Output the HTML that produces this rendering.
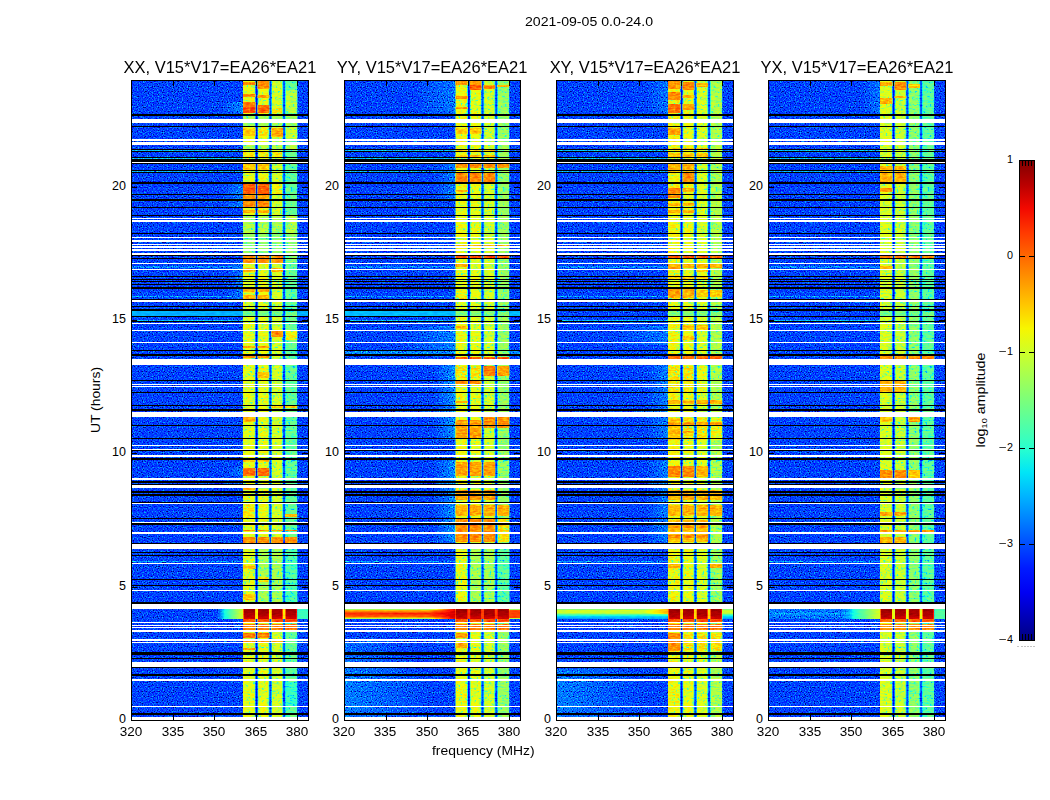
<!DOCTYPE html>
<html><head><meta charset="utf-8"><style>
html,body{margin:0;padding:0;background:#fff;}
body{width:1050px;height:800px;position:relative;overflow:hidden;font-family:"Liberation Sans",sans-serif;color:#000;}
.t{position:absolute;white-space:nowrap;line-height:1;}
.r{text-align:right;}
.c{text-align:center;}
sub{vertical-align:-2px;line-height:0}
</style></head><body>
<svg width="1050" height="800" viewBox="0 0 1050 800" style="position:absolute;left:0;top:0"><defs><linearGradient id="jetg" x1="0" y1="0" x2="0" y2="1"><stop offset="0.000" stop-color="#800000"/><stop offset="0.050" stop-color="#b90000"/><stop offset="0.100" stop-color="#f30900"/><stop offset="0.150" stop-color="#ff3900"/><stop offset="0.200" stop-color="#ff6800"/><stop offset="0.250" stop-color="#ff9700"/><stop offset="0.300" stop-color="#ffc600"/><stop offset="0.350" stop-color="#f7f600"/><stop offset="0.400" stop-color="#ceff29"/><stop offset="0.450" stop-color="#a5ff52"/><stop offset="0.500" stop-color="#7bff7b"/><stop offset="0.550" stop-color="#52ffa5"/><stop offset="0.600" stop-color="#29ffce"/><stop offset="0.650" stop-color="#00e5f7"/><stop offset="0.700" stop-color="#00b3ff"/><stop offset="0.750" stop-color="#0080ff"/><stop offset="0.800" stop-color="#004cff"/><stop offset="0.850" stop-color="#001aff"/><stop offset="0.900" stop-color="#0000f3"/><stop offset="0.950" stop-color="#0000b9"/><stop offset="1.000" stop-color="#000080"/></linearGradient><filter id="jn" x="0" y="0" width="1" height="1" color-interpolation-filters="sRGB">
<feTurbulence type="fractalNoise" baseFrequency="0.8" numOctaves="1" seed="7" result="t"/>
<feColorMatrix in="t" type="matrix" values="1 0 0 0 0  1 0 0 0 0  1 0 0 0 0  0 0 0 0 1" result="n0"/><feComponentTransfer in="n0" result="n"><feFuncR type="table" tableValues="0.000 0.050 0.100 0.150 0.200 0.260 0.330 0.420 0.455 0.470 0.486 0.505 0.525 0.555 0.580 0.600 0.620 0.640 0.660 0.680 0.700"/><feFuncG type="table" tableValues="0.000 0.050 0.100 0.150 0.200 0.260 0.330 0.420 0.455 0.470 0.486 0.505 0.525 0.555 0.580 0.600 0.620 0.640 0.660 0.680 0.700"/><feFuncB type="table" tableValues="0.000 0.050 0.100 0.150 0.200 0.260 0.330 0.420 0.455 0.470 0.486 0.505 0.525 0.555 0.580 0.600 0.620 0.640 0.660 0.680 0.700"/></feComponentTransfer>
<feComposite in="SourceGraphic" in2="n" operator="arithmetic" k1="0" k2="1" k3="1.0" k4="-0.5" result="s"/>
<feColorMatrix in="s" type="matrix" values="1 0 0 0 0  1 0 0 0 0  1 0 0 0 0  0 0 0 0 1" result="g"/>
<feComponentTransfer in="g" result="c"><feFuncR type="table" tableValues="0.000 0.000 0.000 0.000 0.000 0.000 0.000 0.000 0.000 0.000 0.000 0.000 0.000 0.000 0.000 0.000 0.000 0.000 0.000 0.000 0.000 0.000 0.000 0.031 0.082 0.129 0.180 0.231 0.282 0.333 0.384 0.435 0.482 0.533 0.584 0.635 0.686 0.737 0.788 0.835 0.886 0.937 0.988 1.000 1.000 1.000 1.000 1.000 1.000 1.000 1.000 1.000 1.000 1.000 1.000 1.000 1.000 0.996 0.925 0.855 0.784 0.714 0.643 0.573 0.502"/><feFuncG type="table" tableValues="0.000 0.000 0.000 0.000 0.000 0.000 0.000 0.000 0.000 0.063 0.125 0.188 0.251 0.314 0.376 0.439 0.502 0.561 0.624 0.686 0.749 0.812 0.875 0.937 1.000 1.000 1.000 1.000 1.000 1.000 1.000 1.000 1.000 1.000 1.000 1.000 1.000 1.000 1.000 1.000 1.000 0.996 0.941 0.882 0.824 0.765 0.710 0.651 0.592 0.533 0.478 0.420 0.361 0.302 0.247 0.188 0.129 0.071 0.016 0.000 0.000 0.000 0.000 0.000 0.000"/><feFuncB type="table" tableValues="0.502 0.573 0.643 0.714 0.784 0.855 0.925 0.996 1.000 1.000 1.000 1.000 1.000 1.000 1.000 1.000 1.000 1.000 1.000 1.000 1.000 1.000 0.988 0.937 0.886 0.835 0.788 0.737 0.686 0.635 0.584 0.533 0.482 0.435 0.384 0.333 0.282 0.231 0.180 0.129 0.082 0.031 0.000 0.000 0.000 0.000 0.000 0.000 0.000 0.000 0.000 0.000 0.000 0.000 0.000 0.000 0.000 0.000 0.000 0.000 0.000 0.000 0.000 0.000 0.000"/></feComponentTransfer>
<feComposite in="c" in2="SourceAlpha" operator="in"/>
</filter><linearGradient id="glw24" x1="0" x2="1"><stop offset="0" stop-color="#3d3d3d" stop-opacity="0"/><stop offset="1" stop-color="#3d3d3d"/></linearGradient><linearGradient id="gll24" x1="0" x2="1"><stop offset="0" stop-color="#3d3d3d"/><stop offset="1" stop-color="#3d3d3d" stop-opacity="0"/></linearGradient><linearGradient id="glw25" x1="0" x2="1"><stop offset="0" stop-color="#404040" stop-opacity="0"/><stop offset="1" stop-color="#404040"/></linearGradient><linearGradient id="gll25" x1="0" x2="1"><stop offset="0" stop-color="#404040"/><stop offset="1" stop-color="#404040" stop-opacity="0"/></linearGradient><linearGradient id="glw26" x1="0" x2="1"><stop offset="0" stop-color="#424242" stop-opacity="0"/><stop offset="1" stop-color="#424242"/></linearGradient><linearGradient id="gll26" x1="0" x2="1"><stop offset="0" stop-color="#424242"/><stop offset="1" stop-color="#424242" stop-opacity="0"/></linearGradient><linearGradient id="glw27" x1="0" x2="1"><stop offset="0" stop-color="#454545" stop-opacity="0"/><stop offset="1" stop-color="#454545"/></linearGradient><linearGradient id="gll27" x1="0" x2="1"><stop offset="0" stop-color="#454545"/><stop offset="1" stop-color="#454545" stop-opacity="0"/></linearGradient><linearGradient id="glw28" x1="0" x2="1"><stop offset="0" stop-color="#474747" stop-opacity="0"/><stop offset="1" stop-color="#474747"/></linearGradient><linearGradient id="gll28" x1="0" x2="1"><stop offset="0" stop-color="#474747"/><stop offset="1" stop-color="#474747" stop-opacity="0"/></linearGradient><linearGradient id="glw30" x1="0" x2="1"><stop offset="0" stop-color="#4c4c4c" stop-opacity="0"/><stop offset="1" stop-color="#4c4c4c"/></linearGradient><linearGradient id="gll30" x1="0" x2="1"><stop offset="0" stop-color="#4c4c4c"/><stop offset="1" stop-color="#4c4c4c" stop-opacity="0"/></linearGradient><filter id="jb" x="0" y="0" width="1" height="1" color-interpolation-filters="sRGB">
<feTurbulence type="fractalNoise" baseFrequency="0.2 0.6" numOctaves="2" seed="11" result="t"/>
<feColorMatrix in="t" type="matrix" values="1 0 0 0 0  1 0 0 0 0  1 0 0 0 0  0 0 0 0 1" result="n0"/><feComponentTransfer in="n0" result="n"><feFuncR type="table" tableValues="0.000 0.050 0.100 0.150 0.200 0.260 0.320 0.380 0.430 0.470 0.500 0.520 0.540 0.555 0.570 0.585 0.600 0.610 0.620 0.630 0.640"/><feFuncG type="table" tableValues="0.000 0.050 0.100 0.150 0.200 0.260 0.320 0.380 0.430 0.470 0.500 0.520 0.540 0.555 0.570 0.585 0.600 0.610 0.620 0.630 0.640"/><feFuncB type="table" tableValues="0.000 0.050 0.100 0.150 0.200 0.260 0.320 0.380 0.430 0.470 0.500 0.520 0.540 0.555 0.570 0.585 0.600 0.610 0.620 0.630 0.640"/></feComponentTransfer>
<feComposite in="SourceGraphic" in2="n" operator="arithmetic" k1="0" k2="1" k3="0.36" k4="-0.18" result="s"/><feTurbulence type="fractalNoise" baseFrequency="0.45" numOctaves="1" seed="31" result="t2"/>
<feColorMatrix in="t2" type="matrix" values="1 0 0 0 0  1 0 0 0 0  1 0 0 0 0  0 0 0 0 1" result="m2"/>
<feComponentTransfer in="m2" result="d"><feFuncR type="table" tableValues="1 1 1 1 1 1 1 1 1 1 1 1 1 0.910 0.700 0.700 0.700 0.700 0.700 0.700 0.700"/><feFuncG type="table" tableValues="1 1 1 1 1 1 1 1 1 1 1 1 1 0.910 0.700 0.700 0.700 0.700 0.700 0.700 0.700"/><feFuncB type="table" tableValues="1 1 1 1 1 1 1 1 1 1 1 1 1 0.910 0.700 0.700 0.700 0.700 0.700 0.700 0.700"/></feComponentTransfer>
<feComposite in="s" in2="d" operator="arithmetic" k1="1" k2="0" k3="0" k4="0" result="s2"/>
<feColorMatrix in="s2" type="matrix" values="1 0 0 0 0  1 0 0 0 0  1 0 0 0 0  0 0 0 0 1" result="g"/>
<feComponentTransfer in="g" result="c"><feFuncR type="table" tableValues="0.000 0.000 0.000 0.000 0.000 0.000 0.000 0.000 0.000 0.000 0.000 0.000 0.000 0.000 0.000 0.000 0.000 0.000 0.000 0.000 0.000 0.000 0.000 0.031 0.082 0.129 0.180 0.231 0.282 0.333 0.384 0.435 0.482 0.533 0.584 0.635 0.686 0.737 0.788 0.835 0.886 0.937 0.988 1.000 1.000 1.000 1.000 1.000 1.000 1.000 1.000 1.000 1.000 1.000 1.000 1.000 1.000 0.996 0.925 0.855 0.784 0.714 0.643 0.573 0.502"/><feFuncG type="table" tableValues="0.000 0.000 0.000 0.000 0.000 0.000 0.000 0.000 0.000 0.063 0.125 0.188 0.251 0.314 0.376 0.439 0.502 0.561 0.624 0.686 0.749 0.812 0.875 0.937 1.000 1.000 1.000 1.000 1.000 1.000 1.000 1.000 1.000 1.000 1.000 1.000 1.000 1.000 1.000 1.000 1.000 0.996 0.941 0.882 0.824 0.765 0.710 0.651 0.592 0.533 0.478 0.420 0.361 0.302 0.247 0.188 0.129 0.071 0.016 0.000 0.000 0.000 0.000 0.000 0.000"/><feFuncB type="table" tableValues="0.502 0.573 0.643 0.714 0.784 0.855 0.925 0.996 1.000 1.000 1.000 1.000 1.000 1.000 1.000 1.000 1.000 1.000 1.000 1.000 1.000 1.000 0.988 0.937 0.886 0.835 0.788 0.737 0.686 0.635 0.584 0.533 0.482 0.435 0.384 0.333 0.282 0.231 0.180 0.129 0.082 0.031 0.000 0.000 0.000 0.000 0.000 0.000 0.000 0.000 0.000 0.000 0.000 0.000 0.000 0.000 0.000 0.000 0.000 0.000 0.000 0.000 0.000 0.000 0.000"/></feComponentTransfer>
<feComposite in="c" in2="SourceAlpha" operator="in"/>
</filter><filter id="jc" x="0" y="0" width="1" height="1" color-interpolation-filters="sRGB">
<feTurbulence type="fractalNoise" baseFrequency="0.2 0.6" numOctaves="1" seed="5" result="t"/>
<feColorMatrix in="t" type="matrix" values="1 0 0 0 0  1 0 0 0 0  1 0 0 0 0  0 0 0 0 1" result="n"/>
<feComposite in="SourceGraphic" in2="n" operator="arithmetic" k1="0" k2="1" k3="0.08" k4="-0.04" result="s"/>
<feColorMatrix in="s" type="matrix" values="1 0 0 0 0  1 0 0 0 0  1 0 0 0 0  0 0 0 0 1" result="g"/>
<feComponentTransfer in="g" result="c"><feFuncR type="table" tableValues="0.000 0.000 0.000 0.000 0.000 0.000 0.000 0.000 0.000 0.000 0.000 0.000 0.000 0.000 0.000 0.000 0.000 0.000 0.000 0.000 0.000 0.000 0.000 0.031 0.082 0.129 0.180 0.231 0.282 0.333 0.384 0.435 0.482 0.533 0.584 0.635 0.686 0.737 0.788 0.835 0.886 0.937 0.988 1.000 1.000 1.000 1.000 1.000 1.000 1.000 1.000 1.000 1.000 1.000 1.000 1.000 1.000 0.996 0.925 0.855 0.784 0.714 0.643 0.573 0.502"/><feFuncG type="table" tableValues="0.000 0.000 0.000 0.000 0.000 0.000 0.000 0.000 0.000 0.063 0.125 0.188 0.251 0.314 0.376 0.439 0.502 0.561 0.624 0.686 0.749 0.812 0.875 0.937 1.000 1.000 1.000 1.000 1.000 1.000 1.000 1.000 1.000 1.000 1.000 1.000 1.000 1.000 1.000 1.000 1.000 0.996 0.941 0.882 0.824 0.765 0.710 0.651 0.592 0.533 0.478 0.420 0.361 0.302 0.247 0.188 0.129 0.071 0.016 0.000 0.000 0.000 0.000 0.000 0.000"/><feFuncB type="table" tableValues="0.502 0.573 0.643 0.714 0.784 0.855 0.925 0.996 1.000 1.000 1.000 1.000 1.000 1.000 1.000 1.000 1.000 1.000 1.000 1.000 1.000 1.000 0.988 0.937 0.886 0.835 0.788 0.737 0.686 0.635 0.584 0.533 0.482 0.435 0.384 0.333 0.282 0.231 0.180 0.129 0.082 0.031 0.000 0.000 0.000 0.000 0.000 0.000 0.000 0.000 0.000 0.000 0.000 0.000 0.000 0.000 0.000 0.000 0.000 0.000 0.000 0.000 0.000 0.000 0.000"/></feComponentTransfer>
<feComposite in="c" in2="SourceAlpha" operator="in"/>
</filter><filter id="jo" x="0" y="0" width="1" height="1" color-interpolation-filters="sRGB">
<feTurbulence type="fractalNoise" baseFrequency="0.2 0.6" numOctaves="2" seed="13" result="t"/>
<feColorMatrix in="t" type="matrix" values="1 0 0 0 0  1 0 0 0 0  1 0 0 0 0  0 0 0 0 1" result="n"/>
<feComposite in="SourceGraphic" in2="n" operator="arithmetic" k1="0" k2="1" k3="0.18" k4="-0.09" result="s"/><feTurbulence type="fractalNoise" baseFrequency="0.45" numOctaves="1" seed="33" result="t2"/>
<feColorMatrix in="t2" type="matrix" values="1 0 0 0 0  1 0 0 0 0  1 0 0 0 0  0 0 0 0 1" result="m2"/>
<feComponentTransfer in="m2" result="d"><feFuncR type="table" tableValues="1 1 1 1 1 1 1 1 1 1 1 1 1 0.985 0.950 0.950 0.950 0.950 0.950 0.950 0.950"/><feFuncG type="table" tableValues="1 1 1 1 1 1 1 1 1 1 1 1 1 0.985 0.950 0.950 0.950 0.950 0.950 0.950 0.950"/><feFuncB type="table" tableValues="1 1 1 1 1 1 1 1 1 1 1 1 1 0.985 0.950 0.950 0.950 0.950 0.950 0.950 0.950"/></feComponentTransfer>
<feComposite in="s" in2="d" operator="arithmetic" k1="1" k2="0" k3="0" k4="0" result="s2"/>
<feColorMatrix in="s2" type="matrix" values="1 0 0 0 0  1 0 0 0 0  1 0 0 0 0  0 0 0 0 1" result="g"/>
<feComponentTransfer in="g" result="c"><feFuncR type="table" tableValues="0.000 0.000 0.000 0.000 0.000 0.000 0.000 0.000 0.000 0.000 0.000 0.000 0.000 0.000 0.000 0.000 0.000 0.000 0.000 0.000 0.000 0.000 0.000 0.031 0.082 0.129 0.180 0.231 0.282 0.333 0.384 0.435 0.482 0.533 0.584 0.635 0.686 0.737 0.788 0.835 0.886 0.937 0.988 1.000 1.000 1.000 1.000 1.000 1.000 1.000 1.000 1.000 1.000 1.000 1.000 1.000 1.000 0.996 0.925 0.855 0.784 0.714 0.643 0.573 0.502"/><feFuncG type="table" tableValues="0.000 0.000 0.000 0.000 0.000 0.000 0.000 0.000 0.000 0.063 0.125 0.188 0.251 0.314 0.376 0.439 0.502 0.561 0.624 0.686 0.749 0.812 0.875 0.937 1.000 1.000 1.000 1.000 1.000 1.000 1.000 1.000 1.000 1.000 1.000 1.000 1.000 1.000 1.000 1.000 1.000 0.996 0.941 0.882 0.824 0.765 0.710 0.651 0.592 0.533 0.478 0.420 0.361 0.302 0.247 0.188 0.129 0.071 0.016 0.000 0.000 0.000 0.000 0.000 0.000"/><feFuncB type="table" tableValues="0.502 0.573 0.643 0.714 0.784 0.855 0.925 0.996 1.000 1.000 1.000 1.000 1.000 1.000 1.000 1.000 1.000 1.000 1.000 1.000 1.000 1.000 0.988 0.937 0.886 0.835 0.788 0.737 0.686 0.635 0.584 0.533 0.482 0.435 0.384 0.333 0.282 0.231 0.180 0.129 0.082 0.031 0.000 0.000 0.000 0.000 0.000 0.000 0.000 0.000 0.000 0.000 0.000 0.000 0.000 0.000 0.000 0.000 0.000 0.000 0.000 0.000 0.000 0.000 0.000"/></feComponentTransfer>
<feComposite in="c" in2="SourceAlpha" operator="in"/>
</filter><linearGradient id="blk" x1="0" x2="0" y1="0" y2="1"><stop offset="0" stop-color="#f7f7f7"/><stop offset="0.6" stop-color="#f5f5f5"/><stop offset="1" stop-color="#ebebeb"/></linearGradient><linearGradient id="ev2b" x1="0" x2="1"><stop offset="0" stop-color="#b8b8b8" stop-opacity="0"/><stop offset="1" stop-color="#b8b8b8"/></linearGradient><linearGradient id="ev1b" x1="0" x2="1"><stop offset="0" stop-color="#ededed" stop-opacity="0"/><stop offset="1" stop-color="#ededed"/></linearGradient><linearGradient id="ev0" x1="0" x2="1"><stop offset="0" stop-color="#4c4c4c" stop-opacity="0"/><stop offset="0.3" stop-color="#5c5c5c"/><stop offset="1" stop-color="#9e9e9e"/></linearGradient><linearGradient id="ev1" x1="0" x2="0" y1="0" y2="1"><stop offset="0" stop-color="#737373"/><stop offset="0.15" stop-color="#b8b8b8"/><stop offset="0.45" stop-color="#dedede"/><stop offset="0.8" stop-color="#cccccc"/><stop offset="1" stop-color="#808080"/></linearGradient><linearGradient id="ev2" x1="0" x2="0" y1="0" y2="1"><stop offset="0" stop-color="#7a7a7a"/><stop offset="0.15" stop-color="#999999"/><stop offset="0.4" stop-color="#999999"/><stop offset="0.55" stop-color="#757575"/><stop offset="0.72" stop-color="#575757"/><stop offset="1" stop-color="#474747"/></linearGradient><linearGradient id="ev3" x1="0" x2="1"><stop offset="0" stop-color="#454545"/><stop offset="0.5" stop-color="#4a4a4a"/><stop offset="0.6" stop-color="#808080"/><stop offset="0.633" stop-color="#999999"/></linearGradient></defs><g transform="translate(131,80)"><g filter="url(#jn)"><rect x="0.00" y="0.00" width="177.00" height="640.00" fill="#333333"/><rect x="0.00" y="70.00" width="112.00" height="1.00" fill="#525252"/><rect x="0.00" y="78.00" width="112.00" height="1.00" fill="#525252"/><rect x="0.00" y="91.00" width="112.00" height="1.00" fill="#4c4c4c"/><rect x="0.00" y="240.00" width="112.00" height="1.00" fill="#525252"/><rect x="0.00" y="216.00" width="112.00" height="1.00" fill="#4c4c4c"/><rect x="0.00" y="186.00" width="112.00" height="2.00" fill="#454545"/><rect x="0.00" y="481.00" width="112.00" height="1.00" fill="#4c4c4c"/><rect x="90" y="22" width="22" height="11" fill="url(#glw27)"/><rect x="90" y="104" width="22" height="23" fill="url(#glw26)"/><rect x="95" y="182" width="17" height="38" fill="url(#glw25)"/><rect x="95" y="388" width="17" height="8" fill="url(#glw26)"/></g><g filter="url(#jb)"><rect x="112.00" y="0.00" width="12.60" height="640.00" fill="#a1a1a1"/><rect x="126.50" y="0.00" width="11.90" height="640.00" fill="#a3a3a3"/><rect x="140.25" y="0.00" width="11.85" height="640.00" fill="#9c9c9c"/><rect x="154.00" y="0.00" width="12.30" height="640.00" fill="#7a7a7a"/><rect x="140.25" y="28.00" width="11.85" height="5.00" fill="#adadad"/><rect x="154.00" y="10.00" width="12.30" height="23.00" fill="#949494"/><rect x="112.00" y="36.00" width="12.60" height="10.00" fill="#8c8c8c"/><rect x="126.50" y="36.00" width="11.90" height="10.00" fill="#8c8c8c"/><rect x="140.25" y="36.00" width="11.85" height="10.00" fill="#8c8c8c"/><rect x="154.00" y="36.00" width="12.30" height="10.00" fill="#8c8c8c"/><rect x="126.50" y="48.00" width="11.90" height="8.00" fill="#adadad"/><rect x="154.00" y="47.00" width="12.30" height="12.00" fill="#999999"/><rect x="112.00" y="65.00" width="12.60" height="4.00" fill="#919191"/><rect x="126.50" y="65.00" width="11.90" height="4.00" fill="#919191"/><rect x="140.25" y="65.00" width="11.85" height="4.00" fill="#919191"/><rect x="154.00" y="65.00" width="12.30" height="4.00" fill="#919191"/><rect x="112.00" y="72.00" width="12.60" height="5.00" fill="#ababab"/><rect x="126.50" y="72.00" width="11.90" height="5.00" fill="#ababab"/><rect x="140.25" y="72.00" width="11.85" height="5.00" fill="#ababab"/><rect x="140.25" y="104.00" width="11.85" height="10.00" fill="#a6a6a6"/><rect x="112.00" y="136.00" width="12.60" height="17.00" fill="#919191"/><rect x="126.50" y="136.00" width="11.90" height="17.00" fill="#919191"/><rect x="140.25" y="136.00" width="11.85" height="17.00" fill="#919191"/><rect x="154.00" y="136.00" width="12.30" height="17.00" fill="#919191"/><rect x="112.00" y="154.00" width="12.60" height="28.00" fill="#878787"/><rect x="126.50" y="154.00" width="11.90" height="28.00" fill="#878787"/><rect x="140.25" y="154.00" width="11.85" height="28.00" fill="#878787"/><rect x="154.00" y="154.00" width="12.30" height="28.00" fill="#878787"/><rect x="112.00" y="231.00" width="12.60" height="5.00" fill="#808080"/><rect x="126.50" y="231.00" width="11.90" height="5.00" fill="#808080"/><rect x="140.25" y="231.00" width="11.85" height="5.00" fill="#808080"/><rect x="154.00" y="231.00" width="12.30" height="5.00" fill="#808080"/><rect x="154.00" y="251.00" width="12.30" height="9.00" fill="#a8a8a8"/><rect x="112.00" y="422.00" width="12.60" height="16.00" fill="#ababab"/><rect x="126.50" y="469.00" width="11.90" height="55.00" fill="#8f8f8f"/><rect x="140.25" y="469.00" width="11.85" height="55.00" fill="#8f8f8f"/><rect x="154.00" y="469.00" width="12.30" height="55.00" fill="#737373"/><rect x="126.50" y="497.00" width="11.90" height="5.00" fill="#adadad"/><rect x="154.00" y="602.00" width="12.30" height="25.00" fill="#6b6b6b"/><rect x="123.85" y="0.00" width="3.40" height="640.00" fill="#575757"/><rect x="124.70" y="0.00" width="1.70" height="640.00" fill="#1f1f1f"/><rect x="137.62" y="0.00" width="3.40" height="640.00" fill="#575757"/><rect x="138.47" y="0.00" width="1.70" height="640.00" fill="#333333"/><rect x="151.35" y="0.00" width="3.40" height="640.00" fill="#575757"/><rect x="152.20" y="0.00" width="1.70" height="640.00" fill="#333333"/></g><g filter="url(#jo)"><rect x="112.00" y="2.00" width="12.60" height="3.00" fill="#c7c7c7"/><rect x="112.00" y="14.00" width="12.60" height="3.00" fill="#c2c2c2"/><rect x="112.00" y="22.00" width="12.60" height="5.00" fill="#c7c7c7"/><rect x="112.00" y="27.00" width="12.60" height="6.00" fill="#d4d4d4"/><rect x="126.50" y="1.00" width="11.90" height="8.00" fill="#c2c2c2"/><rect x="126.50" y="15.00" width="11.90" height="3.00" fill="#bdbdbd"/><rect x="126.50" y="25.00" width="11.90" height="8.00" fill="#cccccc"/><rect x="112.00" y="48.00" width="12.60" height="8.00" fill="#b2b2b2"/><rect x="140.25" y="48.00" width="11.85" height="9.00" fill="#bababa"/><rect x="112.00" y="84.00" width="12.60" height="6.00" fill="#b2b2b2"/><rect x="126.50" y="84.00" width="11.90" height="6.00" fill="#b2b2b2"/><rect x="112.00" y="104.00" width="12.60" height="10.00" fill="#cfcfcf"/><rect x="126.50" y="104.00" width="11.90" height="10.00" fill="#cfcfcf"/><rect x="112.00" y="115.00" width="12.60" height="4.00" fill="#bdbdbd"/><rect x="126.50" y="115.00" width="11.90" height="4.00" fill="#bdbdbd"/><rect x="112.00" y="121.00" width="12.60" height="6.00" fill="#c4c4c4"/><rect x="126.50" y="121.00" width="11.90" height="6.00" fill="#c4c4c4"/><rect x="112.00" y="130.00" width="12.60" height="3.00" fill="#b8b8b8"/><rect x="126.50" y="130.00" width="11.90" height="3.00" fill="#b8b8b8"/><rect x="112.00" y="176.00" width="12.60" height="8.00" fill="#c2c2c2"/><rect x="126.50" y="176.00" width="11.90" height="8.00" fill="#c2c2c2"/><rect x="140.25" y="176.00" width="11.85" height="8.00" fill="#c2c2c2"/><rect x="112.00" y="188.00" width="12.60" height="4.00" fill="#b8b8b8"/><rect x="140.25" y="188.00" width="11.85" height="4.00" fill="#b8b8b8"/><rect x="112.00" y="208.00" width="12.60" height="4.00" fill="#b8b8b8"/><rect x="126.50" y="208.00" width="11.90" height="4.00" fill="#b8b8b8"/><rect x="112.00" y="215.00" width="12.60" height="4.00" fill="#b8b8b8"/><rect x="126.50" y="215.00" width="11.90" height="4.00" fill="#b8b8b8"/><rect x="140.25" y="251.00" width="11.85" height="6.00" fill="#c2c2c2"/><rect x="112.00" y="266.00" width="12.60" height="2.00" fill="#bdbdbd"/><rect x="126.50" y="266.00" width="11.90" height="2.00" fill="#bdbdbd"/><rect x="112.00" y="276.00" width="12.60" height="2.00" fill="#c2c2c2"/><rect x="126.50" y="276.00" width="11.90" height="2.00" fill="#c2c2c2"/><rect x="126.50" y="292.00" width="11.90" height="6.00" fill="#b2b2b2"/><rect x="112.00" y="337.00" width="12.60" height="5.00" fill="#b8b8b8"/><rect x="140.25" y="326.00" width="11.85" height="2.00" fill="#b2b2b2"/><rect x="154.00" y="326.00" width="12.30" height="2.00" fill="#b2b2b2"/><rect x="112.00" y="378.00" width="12.60" height="4.00" fill="#b2b2b2"/><rect x="126.50" y="378.00" width="11.90" height="4.00" fill="#b2b2b2"/><rect x="112.00" y="388.00" width="12.60" height="8.00" fill="#cccccc"/><rect x="126.50" y="388.00" width="11.90" height="8.00" fill="#cccccc"/><rect x="112.00" y="408.00" width="12.60" height="2.00" fill="#b8b8b8"/><rect x="154.00" y="434.00" width="12.30" height="3.00" fill="#b8b8b8"/><rect x="112.00" y="450.00" width="12.60" height="1.00" fill="#c2c2c2"/><rect x="126.50" y="450.00" width="11.90" height="1.00" fill="#c2c2c2"/><rect x="140.25" y="450.00" width="11.85" height="1.00" fill="#c2c2c2"/><rect x="154.00" y="450.00" width="12.30" height="1.00" fill="#c2c2c2"/><rect x="112.00" y="457.00" width="12.60" height="6.00" fill="#c2c2c2"/><rect x="126.50" y="457.00" width="11.90" height="6.00" fill="#c2c2c2"/><rect x="140.25" y="457.00" width="11.85" height="6.00" fill="#c2c2c2"/><rect x="154.00" y="457.00" width="12.30" height="6.00" fill="#c2c2c2"/><rect x="112.00" y="485.00" width="12.60" height="4.00" fill="#b2b2b2"/><rect x="112.00" y="514.00" width="12.60" height="6.00" fill="#b2b2b2"/><rect x="112.00" y="539.00" width="12.60" height="3.00" fill="#d1d1d1"/><rect x="126.50" y="539.00" width="11.90" height="3.00" fill="#d1d1d1"/><rect x="140.25" y="539.00" width="11.85" height="3.00" fill="#d1d1d1"/><rect x="154.00" y="539.00" width="12.30" height="3.00" fill="#d1d1d1"/><rect x="112.00" y="544.00" width="12.60" height="6.00" fill="#c7c7c7"/><rect x="126.50" y="544.00" width="11.90" height="6.00" fill="#c7c7c7"/><rect x="140.25" y="544.00" width="11.85" height="6.00" fill="#c7c7c7"/><rect x="154.00" y="544.00" width="12.30" height="6.00" fill="#c7c7c7"/><rect x="112.00" y="553.00" width="12.60" height="5.00" fill="#c7c7c7"/><rect x="126.50" y="553.00" width="11.90" height="5.00" fill="#c7c7c7"/><rect x="112.00" y="560.00" width="12.60" height="2.00" fill="#bfbfbf"/><rect x="126.50" y="560.00" width="11.90" height="2.00" fill="#bfbfbf"/><rect x="140.25" y="560.00" width="11.85" height="2.00" fill="#bfbfbf"/><rect x="112.00" y="568.00" width="12.60" height="2.00" fill="#bdbdbd"/></g><g filter="url(#jc)"><rect x="0.00" y="231.00" width="112.00" height="5.00" fill="#4c4c4c"/><rect x="166.30" y="231.00" width="10.70" height="5.00" fill="#4c4c4c"/><rect x="85" y="529" width="27" height="10" fill="url(#ev0)"/><rect x="112.00" y="529.00" width="54.30" height="10.00" fill="#a8a8a8"/><rect x="166.30" y="529.00" width="10.70" height="10.00" fill="#6b6b6b"/><rect x="112.50" y="529" width="11.60" height="10" fill="url(#blk)"/><rect x="127.00" y="529" width="10.90" height="10" fill="url(#blk)"/><rect x="140.75" y="529" width="10.85" height="10" fill="url(#blk)"/><rect x="154.50" y="529" width="11.30" height="10" fill="url(#blk)"/></g><rect x="0.00" y="34.00" width="177.00" height="2.00" fill="#000000"/><rect x="0.00" y="39.00" width="177.00" height="4.00" fill="#ffffff"/><rect x="0.00" y="46.00" width="177.00" height="1.00" fill="#000000"/><rect x="0.00" y="59.00" width="177.00" height="2.00" fill="#ffffff"/><rect x="0.00" y="62.00" width="177.00" height="3.00" fill="#ffffff"/><rect x="0.00" y="69.00" width="177.00" height="1.00" fill="#000000"/><rect x="0.00" y="71.00" width="177.00" height="1.00" fill="#000000"/><rect x="0.00" y="77.00" width="177.00" height="1.00" fill="#000000"/><rect x="0.00" y="79.00" width="177.00" height="3.00" fill="#000000"/><rect x="0.00" y="82.00" width="177.00" height="1.00" fill="#ffffff"/><rect x="0.00" y="83.00" width="177.00" height="1.00" fill="#000000"/><rect x="0.00" y="90.00" width="177.00" height="1.00" fill="#000000"/><rect x="0.00" y="92.00" width="177.00" height="1.00" fill="#000000"/><rect x="0.00" y="102.00" width="177.00" height="2.00" fill="#000000"/><rect x="0.00" y="114.00" width="177.00" height="1.00" fill="#000000"/><rect x="0.00" y="119.00" width="177.00" height="2.00" fill="#000000"/><rect x="0.00" y="127.00" width="177.00" height="1.00" fill="#000000"/><rect x="0.00" y="135.00" width="177.00" height="1.00" fill="#000000"/><rect x="0.00" y="138.00" width="177.00" height="1.00" fill="#ffffff"/><rect x="0.00" y="140.00" width="177.00" height="2.00" fill="#ffffff"/><rect x="0.00" y="153.00" width="177.00" height="1.00" fill="#000000"/><rect x="0.00" y="157.00" width="177.00" height="1.00" fill="#ffffff"/><rect x="0.00" y="160.00" width="177.00" height="2.00" fill="#ffffff"/><rect x="0.00" y="164.00" width="177.00" height="1.00" fill="#ffffff"/><rect x="0.00" y="166.00" width="177.00" height="2.00" fill="#ffffff"/><rect x="0.00" y="169.00" width="177.00" height="2.00" fill="#ffffff"/><rect x="0.00" y="173.00" width="177.00" height="2.00" fill="#ffffff"/><rect x="0.00" y="175.00" width="177.00" height="1.00" fill="#000000"/><rect x="0.00" y="178.00" width="177.00" height="1.00" fill="#000000"/><rect x="0.00" y="183.00" width="177.00" height="1.00" fill="#ffffff"/><rect x="0.00" y="189.00" width="177.00" height="1.00" fill="#ffffff"/><rect x="0.00" y="196.00" width="177.00" height="1.00" fill="#000000"/><rect x="0.00" y="199.00" width="177.00" height="1.00" fill="#000000"/><rect x="0.00" y="201.00" width="177.00" height="1.00" fill="#000000"/><rect x="0.00" y="204.00" width="177.00" height="1.00" fill="#000000"/><rect x="0.00" y="207.00" width="177.00" height="2.00" fill="#000000"/><rect x="0.00" y="219.00" width="177.00" height="1.00" fill="#000000"/><rect x="0.00" y="220.00" width="177.00" height="2.00" fill="#ffffff"/><rect x="0.00" y="226.00" width="177.00" height="1.00" fill="#000000"/><rect x="0.00" y="229.00" width="177.00" height="2.00" fill="#000000"/><rect x="0.00" y="236.00" width="177.00" height="1.00" fill="#000000"/><rect x="0.00" y="241.00" width="177.00" height="1.00" fill="#000000"/><rect x="0.00" y="243.00" width="177.00" height="1.00" fill="#ffffff"/><rect x="0.00" y="250.00" width="177.00" height="1.00" fill="#ffffff"/><rect x="0.00" y="262.00" width="177.00" height="1.00" fill="#ffffff"/><rect x="0.00" y="270.00" width="177.00" height="1.00" fill="#000000"/><rect x="0.00" y="274.00" width="177.00" height="2.00" fill="#000000"/><rect x="0.00" y="279.00" width="177.00" height="6.00" fill="#ffffff"/><rect x="0.00" y="300.00" width="177.00" height="1.00" fill="#000000"/><rect x="0.00" y="304.00" width="177.00" height="1.00" fill="#ffffff"/><rect x="0.00" y="306.00" width="177.00" height="1.00" fill="#ffffff"/><rect x="0.00" y="312.00" width="177.00" height="1.00" fill="#000000"/><rect x="0.00" y="325.00" width="177.00" height="1.00" fill="#000000"/><rect x="0.00" y="329.00" width="177.00" height="2.00" fill="#000000"/><rect x="0.00" y="332.00" width="177.00" height="5.00" fill="#ffffff"/><rect x="0.00" y="345.00" width="177.00" height="1.00" fill="#000000"/><rect x="0.00" y="358.00" width="177.00" height="1.00" fill="#000000"/><rect x="0.00" y="365.00" width="177.00" height="1.00" fill="#ffffff"/><rect x="0.00" y="369.00" width="177.00" height="1.00" fill="#ffffff"/><rect x="0.00" y="370.00" width="177.00" height="1.00" fill="#000000"/><rect x="0.00" y="375.00" width="177.00" height="2.00" fill="#ffffff"/><rect x="0.00" y="378.00" width="177.00" height="2.00" fill="#000000"/><rect x="0.00" y="398.00" width="177.00" height="2.00" fill="#ffffff"/><rect x="0.00" y="401.00" width="177.00" height="2.00" fill="#000000"/><rect x="0.00" y="404.00" width="177.00" height="1.00" fill="#000000"/><rect x="0.00" y="405.00" width="177.00" height="3.00" fill="#ffffff"/><rect x="0.00" y="411.00" width="177.00" height="2.00" fill="#000000"/><rect x="0.00" y="414.00" width="177.00" height="2.00" fill="#000000"/><rect x="0.00" y="422.00" width="177.00" height="1.00" fill="#000000"/><rect x="0.00" y="423.00" width="177.00" height="1.00" fill="#ffffff"/><rect x="0.00" y="438.00" width="177.00" height="1.00" fill="#000000"/><rect x="0.00" y="442.00" width="177.00" height="1.00" fill="#ffffff"/><rect x="0.00" y="443.00" width="177.00" height="2.00" fill="#000000"/><rect x="0.00" y="452.00" width="177.00" height="2.00" fill="#ffffff"/><rect x="0.00" y="463.00" width="177.00" height="1.00" fill="#000000"/><rect x="0.00" y="464.00" width="177.00" height="5.00" fill="#ffffff"/><rect x="0.00" y="472.00" width="177.00" height="1.00" fill="#000000"/><rect x="0.00" y="475.00" width="177.00" height="1.00" fill="#000000"/><rect x="0.00" y="483.00" width="177.00" height="1.00" fill="#ffffff"/><rect x="0.00" y="499.00" width="177.00" height="1.00" fill="#000000"/><rect x="0.00" y="505.00" width="177.00" height="1.00" fill="#000000"/><rect x="0.00" y="510.00" width="177.00" height="1.00" fill="#ffffff"/><rect x="0.00" y="522.00" width="177.00" height="2.00" fill="#000000"/><rect x="0.00" y="524.00" width="177.00" height="5.00" fill="#ffffff"/><rect x="0.00" y="542.00" width="177.00" height="1.00" fill="#ffffff"/><rect x="0.00" y="545.00" width="177.00" height="1.00" fill="#ffffff"/><rect x="0.00" y="547.00" width="177.00" height="1.00" fill="#ffffff"/><rect x="0.00" y="550.00" width="177.00" height="2.00" fill="#ffffff"/><rect x="0.00" y="559.00" width="177.00" height="2.00" fill="#ffffff"/><rect x="0.00" y="562.00" width="177.00" height="1.00" fill="#ffffff"/><rect x="0.00" y="572.00" width="177.00" height="3.00" fill="#000000"/><rect x="0.00" y="578.00" width="177.00" height="1.00" fill="#000000"/><rect x="0.00" y="582.00" width="177.00" height="5.00" fill="#ffffff"/><rect x="0.00" y="587.00" width="177.00" height="1.00" fill="#000000"/><rect x="0.00" y="594.00" width="177.00" height="2.00" fill="#000000"/><rect x="0.00" y="599.00" width="177.00" height="2.00" fill="#ffffff"/><rect x="0.00" y="626.00" width="177.00" height="1.00" fill="#ffffff"/><rect x="0.00" y="633.00" width="177.00" height="2.00" fill="#000000"/><rect x="0.00" y="637.00" width="177.00" height="3.00" fill="#ffffff"/></g><rect x="131.5" y="80.5" width="177" height="640" fill="none" stroke="#000" stroke-width="1"/><rect x="131" y="714" width="1" height="6" fill="#000"/><rect x="131" y="80" width="1" height="6" fill="#000"/><rect x="173" y="714" width="1" height="6" fill="#000"/><rect x="173" y="80" width="1" height="6" fill="#000"/><rect x="214" y="714" width="1" height="6" fill="#000"/><rect x="214" y="80" width="1" height="6" fill="#000"/><rect x="256" y="714" width="1" height="6" fill="#000"/><rect x="256" y="80" width="1" height="6" fill="#000"/><rect x="297" y="714" width="1" height="6" fill="#000"/><rect x="297" y="80" width="1" height="6" fill="#000"/><rect x="131" y="720" width="6" height="1" fill="#000"/><rect x="302" y="720" width="6" height="1" fill="#000"/><rect x="131" y="587" width="6" height="1" fill="#000"/><rect x="302" y="587" width="6" height="1" fill="#000"/><rect x="131" y="453" width="6" height="1" fill="#000"/><rect x="302" y="453" width="6" height="1" fill="#000"/><rect x="131" y="320" width="6" height="1" fill="#000"/><rect x="302" y="320" width="6" height="1" fill="#000"/><rect x="131" y="187" width="6" height="1" fill="#000"/><rect x="302" y="187" width="6" height="1" fill="#000"/><g transform="translate(344,80) scale(0.99435,1)"><g filter="url(#jn)"><rect x="0.00" y="0.00" width="177.00" height="640.00" fill="#333333"/><rect x="0.00" y="70.00" width="112.00" height="1.00" fill="#525252"/><rect x="0.00" y="78.00" width="112.00" height="1.00" fill="#525252"/><rect x="0.00" y="91.00" width="112.00" height="1.00" fill="#4c4c4c"/><rect x="0.00" y="240.00" width="112.00" height="1.00" fill="#525252"/><rect x="0.00" y="216.00" width="112.00" height="1.00" fill="#4c4c4c"/><rect x="0.00" y="186.00" width="112.00" height="2.00" fill="#454545"/><rect x="0.00" y="481.00" width="112.00" height="1.00" fill="#4c4c4c"/><rect x="60" y="246" width="52" height="26" fill="url(#glw26)"/><rect x="0.00" y="271.00" width="177.00" height="3.00" fill="#454545"/><rect x="70" y="1" width="42" height="32" fill="url(#glw25)"/><rect x="90" y="80" width="22" height="40" fill="url(#glw26)"/><rect x="90" y="285" width="22" height="75" fill="url(#glw28)"/><rect x="90" y="380" width="22" height="82" fill="url(#glw28)"/><rect x="0" y="589" width="90" height="51" fill="url(#gll26)"/><rect x="0" y="560" width="60" height="29" fill="url(#gll24)"/></g><g filter="url(#jb)"><rect x="112.00" y="0.00" width="12.60" height="640.00" fill="#a4a4a4"/><rect x="126.50" y="0.00" width="11.90" height="640.00" fill="#a2a2a2"/><rect x="140.25" y="0.00" width="11.85" height="640.00" fill="#9c9c9c"/><rect x="154.00" y="0.00" width="12.30" height="640.00" fill="#8a8a8a"/><rect x="112.00" y="216.00" width="12.60" height="6.00" fill="#adadad"/><rect x="112.00" y="231.00" width="12.60" height="5.00" fill="#858585"/><rect x="126.50" y="231.00" width="11.90" height="5.00" fill="#858585"/><rect x="140.25" y="231.00" width="11.85" height="5.00" fill="#858585"/><rect x="154.00" y="231.00" width="12.30" height="5.00" fill="#858585"/><rect x="112.00" y="286.00" width="12.60" height="12.00" fill="#adadad"/><rect x="126.50" y="286.00" width="11.90" height="12.00" fill="#adadad"/><rect x="154.00" y="438.00" width="12.30" height="24.00" fill="#adadad"/><rect x="126.50" y="469.00" width="11.90" height="55.00" fill="#8f8f8f"/><rect x="140.25" y="469.00" width="11.85" height="55.00" fill="#8f8f8f"/><rect x="154.00" y="469.00" width="12.30" height="55.00" fill="#787878"/><rect x="123.85" y="0.00" width="3.40" height="640.00" fill="#575757"/><rect x="124.70" y="0.00" width="1.70" height="640.00" fill="#1f1f1f"/><rect x="137.62" y="0.00" width="3.40" height="640.00" fill="#575757"/><rect x="138.47" y="0.00" width="1.70" height="640.00" fill="#333333"/><rect x="151.35" y="0.00" width="3.40" height="640.00" fill="#575757"/><rect x="152.20" y="0.00" width="1.70" height="640.00" fill="#333333"/></g><g filter="url(#jo)"><rect x="112.00" y="1.00" width="12.60" height="4.00" fill="#c2c2c2"/><rect x="112.00" y="16.00" width="12.60" height="3.00" fill="#c2c2c2"/><rect x="112.00" y="27.00" width="12.60" height="2.00" fill="#bdbdbd"/><rect x="126.50" y="1.00" width="11.90" height="4.00" fill="#bdbdbd"/><rect x="126.50" y="5.00" width="11.90" height="5.00" fill="#cfcfcf"/><rect x="140.25" y="5.00" width="11.85" height="4.00" fill="#c4c4c4"/><rect x="154.00" y="5.00" width="12.30" height="2.00" fill="#b8b8b8"/><rect x="112.00" y="48.00" width="12.60" height="6.00" fill="#b2b2b2"/><rect x="126.50" y="48.00" width="11.90" height="6.00" fill="#b2b2b2"/><rect x="112.00" y="70.00" width="12.60" height="2.00" fill="#b2b2b2"/><rect x="126.50" y="70.00" width="11.90" height="2.00" fill="#b2b2b2"/><rect x="140.25" y="70.00" width="11.85" height="2.00" fill="#b2b2b2"/><rect x="112.00" y="75.00" width="12.60" height="3.00" fill="#b2b2b2"/><rect x="126.50" y="75.00" width="11.90" height="3.00" fill="#b2b2b2"/><rect x="140.25" y="75.00" width="11.85" height="3.00" fill="#b2b2b2"/><rect x="112.00" y="84.00" width="12.60" height="4.00" fill="#c2c2c2"/><rect x="126.50" y="84.00" width="11.90" height="4.00" fill="#c2c2c2"/><rect x="140.25" y="84.00" width="11.85" height="4.00" fill="#c2c2c2"/><rect x="154.00" y="84.00" width="12.30" height="4.00" fill="#c2c2c2"/><rect x="112.00" y="93.00" width="12.60" height="9.00" fill="#c4c4c4"/><rect x="126.50" y="93.00" width="11.90" height="9.00" fill="#c4c4c4"/><rect x="140.25" y="93.00" width="11.85" height="9.00" fill="#c4c4c4"/><rect x="112.00" y="110.00" width="12.60" height="2.00" fill="#b8b8b8"/><rect x="112.00" y="164.00" width="12.60" height="4.00" fill="#b8b8b8"/><rect x="126.50" y="164.00" width="11.90" height="4.00" fill="#b8b8b8"/><rect x="140.25" y="164.00" width="11.85" height="4.00" fill="#b8b8b8"/><rect x="154.00" y="164.00" width="12.30" height="4.00" fill="#b8b8b8"/><rect x="112.00" y="176.00" width="12.60" height="2.00" fill="#d4d4d4"/><rect x="126.50" y="176.00" width="11.90" height="2.00" fill="#d4d4d4"/><rect x="140.25" y="176.00" width="11.85" height="2.00" fill="#d4d4d4"/><rect x="154.00" y="176.00" width="12.30" height="2.00" fill="#d4d4d4"/><rect x="112.00" y="184.00" width="12.60" height="3.00" fill="#bdbdbd"/><rect x="112.00" y="246.00" width="12.60" height="3.00" fill="#b8b8b8"/><rect x="112.00" y="277.00" width="12.60" height="2.00" fill="#d1d1d1"/><rect x="126.50" y="277.00" width="11.90" height="2.00" fill="#d1d1d1"/><rect x="140.25" y="277.00" width="11.85" height="2.00" fill="#d1d1d1"/><rect x="154.00" y="277.00" width="12.30" height="2.00" fill="#d1d1d1"/><rect x="140.25" y="286.00" width="11.85" height="10.00" fill="#c7c7c7"/><rect x="154.00" y="286.00" width="12.30" height="10.00" fill="#bdbdbd"/><rect x="112.00" y="300.00" width="12.60" height="4.00" fill="#c2c2c2"/><rect x="126.50" y="300.00" width="11.90" height="4.00" fill="#c2c2c2"/><rect x="112.00" y="321.00" width="12.60" height="2.00" fill="#bdbdbd"/><rect x="140.25" y="337.00" width="11.85" height="11.00" fill="#c2c2c2"/><rect x="154.00" y="337.00" width="12.30" height="11.00" fill="#c2c2c2"/><rect x="112.00" y="340.00" width="12.60" height="18.00" fill="#bdbdbd"/><rect x="126.50" y="340.00" width="11.90" height="18.00" fill="#bdbdbd"/><rect x="112.00" y="382.00" width="12.60" height="14.00" fill="#bdbdbd"/><rect x="126.50" y="382.00" width="11.90" height="14.00" fill="#bdbdbd"/><rect x="140.25" y="382.00" width="11.85" height="14.00" fill="#bdbdbd"/><rect x="112.00" y="410.00" width="12.60" height="10.00" fill="#bdbdbd"/><rect x="126.50" y="410.00" width="11.90" height="10.00" fill="#bdbdbd"/><rect x="140.25" y="410.00" width="11.85" height="10.00" fill="#bdbdbd"/><rect x="112.00" y="425.00" width="12.60" height="11.00" fill="#bababa"/><rect x="126.50" y="425.00" width="11.90" height="11.00" fill="#bababa"/><rect x="140.25" y="425.00" width="11.85" height="11.00" fill="#bababa"/><rect x="154.00" y="425.00" width="12.30" height="11.00" fill="#bababa"/><rect x="112.00" y="438.00" width="12.60" height="24.00" fill="#c2c2c2"/><rect x="126.50" y="438.00" width="11.90" height="24.00" fill="#c2c2c2"/><rect x="140.25" y="438.00" width="11.85" height="24.00" fill="#c2c2c2"/><rect x="112.00" y="539.00" width="12.60" height="3.00" fill="#d1d1d1"/><rect x="126.50" y="539.00" width="11.90" height="3.00" fill="#d1d1d1"/><rect x="140.25" y="539.00" width="11.85" height="3.00" fill="#d1d1d1"/><rect x="154.00" y="539.00" width="12.30" height="3.00" fill="#d1d1d1"/><rect x="112.00" y="544.00" width="12.60" height="6.00" fill="#c7c7c7"/><rect x="126.50" y="544.00" width="11.90" height="6.00" fill="#c7c7c7"/><rect x="140.25" y="544.00" width="11.85" height="6.00" fill="#c7c7c7"/><rect x="154.00" y="544.00" width="12.30" height="6.00" fill="#c7c7c7"/><rect x="112.00" y="553.00" width="12.60" height="5.00" fill="#bdbdbd"/><rect x="112.00" y="563.00" width="12.60" height="5.00" fill="#bababa"/></g><g filter="url(#jc)"><rect x="0.00" y="231.00" width="112.00" height="5.00" fill="#4f4f4f"/><rect x="166.30" y="231.00" width="10.70" height="5.00" fill="#4f4f4f"/><rect x="0" y="529" width="177" height="10" fill="url(#ev1)"/><rect x="85" y="529" width="27" height="10" fill="url(#ev1b)" /><rect x="112.00" y="529.00" width="54.30" height="10.00" fill="#d6d6d6"/><rect x="166.30" y="530.00" width="10.70" height="8.00" fill="#d6d6d6"/><rect x="112.50" y="529" width="11.60" height="10" fill="url(#blk)"/><rect x="127.00" y="529" width="10.90" height="10" fill="url(#blk)"/><rect x="140.75" y="529" width="10.85" height="10" fill="url(#blk)"/><rect x="154.50" y="529" width="11.30" height="10" fill="url(#blk)"/></g><rect x="0.00" y="34.00" width="177.00" height="2.00" fill="#000000"/><rect x="0.00" y="39.00" width="177.00" height="4.00" fill="#ffffff"/><rect x="0.00" y="46.00" width="177.00" height="1.00" fill="#000000"/><rect x="0.00" y="59.00" width="177.00" height="2.00" fill="#ffffff"/><rect x="0.00" y="62.00" width="177.00" height="3.00" fill="#ffffff"/><rect x="0.00" y="69.00" width="177.00" height="1.00" fill="#000000"/><rect x="0.00" y="71.00" width="177.00" height="1.00" fill="#000000"/><rect x="0.00" y="77.00" width="177.00" height="1.00" fill="#000000"/><rect x="0.00" y="79.00" width="177.00" height="3.00" fill="#000000"/><rect x="0.00" y="82.00" width="177.00" height="1.00" fill="#ffffff"/><rect x="0.00" y="83.00" width="177.00" height="1.00" fill="#000000"/><rect x="0.00" y="90.00" width="177.00" height="1.00" fill="#000000"/><rect x="0.00" y="92.00" width="177.00" height="1.00" fill="#000000"/><rect x="0.00" y="102.00" width="177.00" height="2.00" fill="#000000"/><rect x="0.00" y="114.00" width="177.00" height="1.00" fill="#000000"/><rect x="0.00" y="119.00" width="177.00" height="2.00" fill="#000000"/><rect x="0.00" y="127.00" width="177.00" height="1.00" fill="#000000"/><rect x="0.00" y="135.00" width="177.00" height="1.00" fill="#000000"/><rect x="0.00" y="138.00" width="177.00" height="1.00" fill="#ffffff"/><rect x="0.00" y="140.00" width="177.00" height="2.00" fill="#ffffff"/><rect x="0.00" y="153.00" width="177.00" height="1.00" fill="#000000"/><rect x="0.00" y="157.00" width="177.00" height="1.00" fill="#ffffff"/><rect x="0.00" y="160.00" width="177.00" height="2.00" fill="#ffffff"/><rect x="0.00" y="164.00" width="177.00" height="1.00" fill="#ffffff"/><rect x="0.00" y="166.00" width="177.00" height="2.00" fill="#ffffff"/><rect x="0.00" y="169.00" width="177.00" height="2.00" fill="#ffffff"/><rect x="0.00" y="173.00" width="177.00" height="2.00" fill="#ffffff"/><rect x="0.00" y="175.00" width="177.00" height="1.00" fill="#000000"/><rect x="0.00" y="178.00" width="177.00" height="1.00" fill="#000000"/><rect x="0.00" y="183.00" width="177.00" height="1.00" fill="#ffffff"/><rect x="0.00" y="189.00" width="177.00" height="1.00" fill="#ffffff"/><rect x="0.00" y="196.00" width="177.00" height="1.00" fill="#000000"/><rect x="0.00" y="199.00" width="177.00" height="1.00" fill="#000000"/><rect x="0.00" y="201.00" width="177.00" height="1.00" fill="#000000"/><rect x="0.00" y="204.00" width="177.00" height="1.00" fill="#000000"/><rect x="0.00" y="207.00" width="177.00" height="2.00" fill="#000000"/><rect x="0.00" y="219.00" width="177.00" height="1.00" fill="#000000"/><rect x="0.00" y="220.00" width="177.00" height="2.00" fill="#ffffff"/><rect x="0.00" y="226.00" width="177.00" height="1.00" fill="#000000"/><rect x="0.00" y="229.00" width="177.00" height="2.00" fill="#000000"/><rect x="0.00" y="236.00" width="177.00" height="1.00" fill="#000000"/><rect x="0.00" y="241.00" width="177.00" height="1.00" fill="#000000"/><rect x="0.00" y="243.00" width="177.00" height="1.00" fill="#ffffff"/><rect x="0.00" y="250.00" width="177.00" height="1.00" fill="#ffffff"/><rect x="0.00" y="262.00" width="177.00" height="1.00" fill="#ffffff"/><rect x="0.00" y="270.00" width="177.00" height="1.00" fill="#000000"/><rect x="0.00" y="274.00" width="177.00" height="2.00" fill="#000000"/><rect x="0.00" y="279.00" width="177.00" height="6.00" fill="#ffffff"/><rect x="0.00" y="300.00" width="177.00" height="1.00" fill="#000000"/><rect x="0.00" y="304.00" width="177.00" height="1.00" fill="#ffffff"/><rect x="0.00" y="306.00" width="177.00" height="1.00" fill="#ffffff"/><rect x="0.00" y="312.00" width="177.00" height="1.00" fill="#000000"/><rect x="0.00" y="325.00" width="177.00" height="1.00" fill="#000000"/><rect x="0.00" y="329.00" width="177.00" height="2.00" fill="#000000"/><rect x="0.00" y="332.00" width="177.00" height="5.00" fill="#ffffff"/><rect x="0.00" y="345.00" width="177.00" height="1.00" fill="#000000"/><rect x="0.00" y="358.00" width="177.00" height="1.00" fill="#000000"/><rect x="0.00" y="365.00" width="177.00" height="1.00" fill="#ffffff"/><rect x="0.00" y="369.00" width="177.00" height="1.00" fill="#ffffff"/><rect x="0.00" y="370.00" width="177.00" height="1.00" fill="#000000"/><rect x="0.00" y="375.00" width="177.00" height="2.00" fill="#ffffff"/><rect x="0.00" y="378.00" width="177.00" height="2.00" fill="#000000"/><rect x="0.00" y="398.00" width="177.00" height="2.00" fill="#ffffff"/><rect x="0.00" y="401.00" width="177.00" height="2.00" fill="#000000"/><rect x="0.00" y="404.00" width="177.00" height="1.00" fill="#000000"/><rect x="0.00" y="405.00" width="177.00" height="3.00" fill="#ffffff"/><rect x="0.00" y="411.00" width="177.00" height="2.00" fill="#000000"/><rect x="0.00" y="414.00" width="177.00" height="2.00" fill="#000000"/><rect x="0.00" y="422.00" width="177.00" height="1.00" fill="#000000"/><rect x="0.00" y="423.00" width="177.00" height="1.00" fill="#ffffff"/><rect x="0.00" y="438.00" width="177.00" height="1.00" fill="#000000"/><rect x="0.00" y="442.00" width="177.00" height="1.00" fill="#ffffff"/><rect x="0.00" y="443.00" width="177.00" height="2.00" fill="#000000"/><rect x="0.00" y="452.00" width="177.00" height="2.00" fill="#ffffff"/><rect x="0.00" y="463.00" width="177.00" height="1.00" fill="#000000"/><rect x="0.00" y="464.00" width="177.00" height="5.00" fill="#ffffff"/><rect x="0.00" y="472.00" width="177.00" height="1.00" fill="#000000"/><rect x="0.00" y="475.00" width="177.00" height="1.00" fill="#000000"/><rect x="0.00" y="483.00" width="177.00" height="1.00" fill="#ffffff"/><rect x="0.00" y="499.00" width="177.00" height="1.00" fill="#000000"/><rect x="0.00" y="505.00" width="177.00" height="1.00" fill="#000000"/><rect x="0.00" y="510.00" width="177.00" height="1.00" fill="#ffffff"/><rect x="0.00" y="522.00" width="177.00" height="2.00" fill="#000000"/><rect x="0.00" y="524.00" width="177.00" height="5.00" fill="#ffffff"/><rect x="0.00" y="542.00" width="177.00" height="1.00" fill="#ffffff"/><rect x="0.00" y="545.00" width="177.00" height="1.00" fill="#ffffff"/><rect x="0.00" y="547.00" width="177.00" height="1.00" fill="#ffffff"/><rect x="0.00" y="550.00" width="177.00" height="2.00" fill="#ffffff"/><rect x="0.00" y="559.00" width="177.00" height="2.00" fill="#ffffff"/><rect x="0.00" y="562.00" width="177.00" height="1.00" fill="#ffffff"/><rect x="0.00" y="572.00" width="177.00" height="3.00" fill="#000000"/><rect x="0.00" y="578.00" width="177.00" height="1.00" fill="#000000"/><rect x="0.00" y="582.00" width="177.00" height="5.00" fill="#ffffff"/><rect x="0.00" y="587.00" width="177.00" height="1.00" fill="#000000"/><rect x="0.00" y="594.00" width="177.00" height="2.00" fill="#000000"/><rect x="0.00" y="599.00" width="177.00" height="2.00" fill="#ffffff"/><rect x="0.00" y="626.00" width="177.00" height="1.00" fill="#ffffff"/><rect x="0.00" y="633.00" width="177.00" height="2.00" fill="#000000"/><rect x="0.00" y="637.00" width="177.00" height="3.00" fill="#ffffff"/></g><rect x="344.5" y="80.5" width="176" height="640" fill="none" stroke="#000" stroke-width="1"/><rect x="344" y="714" width="1" height="6" fill="#000"/><rect x="344" y="80" width="1" height="6" fill="#000"/><rect x="386" y="714" width="1" height="6" fill="#000"/><rect x="386" y="80" width="1" height="6" fill="#000"/><rect x="427" y="714" width="1" height="6" fill="#000"/><rect x="427" y="80" width="1" height="6" fill="#000"/><rect x="468" y="714" width="1" height="6" fill="#000"/><rect x="468" y="80" width="1" height="6" fill="#000"/><rect x="509" y="714" width="1" height="6" fill="#000"/><rect x="509" y="80" width="1" height="6" fill="#000"/><rect x="344" y="720" width="6" height="1" fill="#000"/><rect x="514" y="720" width="6" height="1" fill="#000"/><rect x="344" y="587" width="6" height="1" fill="#000"/><rect x="514" y="587" width="6" height="1" fill="#000"/><rect x="344" y="453" width="6" height="1" fill="#000"/><rect x="514" y="453" width="6" height="1" fill="#000"/><rect x="344" y="320" width="6" height="1" fill="#000"/><rect x="514" y="320" width="6" height="1" fill="#000"/><rect x="344" y="187" width="6" height="1" fill="#000"/><rect x="514" y="187" width="6" height="1" fill="#000"/><g transform="translate(556,80)"><g filter="url(#jn)"><rect x="0.00" y="0.00" width="177.00" height="640.00" fill="#333333"/><rect x="0.00" y="70.00" width="112.00" height="1.00" fill="#525252"/><rect x="0.00" y="78.00" width="112.00" height="1.00" fill="#525252"/><rect x="0.00" y="91.00" width="112.00" height="1.00" fill="#4c4c4c"/><rect x="0.00" y="240.00" width="112.00" height="1.00" fill="#525252"/><rect x="0.00" y="216.00" width="112.00" height="1.00" fill="#4c4c4c"/><rect x="0.00" y="186.00" width="112.00" height="2.00" fill="#454545"/><rect x="0.00" y="481.00" width="112.00" height="1.00" fill="#4c4c4c"/><rect x="60" y="246" width="52" height="19" fill="url(#glw25)"/><rect x="90" y="1" width="22" height="32" fill="url(#glw25)"/><rect x="90" y="285" width="22" height="75" fill="url(#glw26)"/><rect x="90" y="380" width="22" height="82" fill="url(#glw26)"/><rect x="0" y="589" width="90" height="51" fill="url(#gll26)"/></g><g filter="url(#jb)"><rect x="112.00" y="0.00" width="12.60" height="640.00" fill="#a6a6a6"/><rect x="126.50" y="0.00" width="11.90" height="640.00" fill="#a3a3a3"/><rect x="140.25" y="0.00" width="11.85" height="640.00" fill="#9e9e9e"/><rect x="154.00" y="0.00" width="12.30" height="640.00" fill="#919191"/><rect x="112.00" y="231.00" width="12.60" height="5.00" fill="#858585"/><rect x="126.50" y="231.00" width="11.90" height="5.00" fill="#858585"/><rect x="140.25" y="231.00" width="11.85" height="5.00" fill="#858585"/><rect x="154.00" y="231.00" width="12.30" height="5.00" fill="#858585"/><rect x="112.00" y="286.00" width="12.60" height="26.00" fill="#adadad"/><rect x="126.50" y="286.00" width="11.90" height="26.00" fill="#adadad"/><rect x="140.25" y="286.00" width="11.85" height="26.00" fill="#a3a3a3"/><rect x="126.50" y="338.00" width="11.90" height="22.00" fill="#adadad"/><rect x="140.25" y="338.00" width="11.85" height="22.00" fill="#adadad"/><rect x="154.00" y="338.00" width="12.30" height="22.00" fill="#a6a6a6"/><rect x="154.00" y="469.00" width="12.30" height="56.00" fill="#8c8c8c"/><rect x="126.50" y="553.00" width="11.90" height="18.00" fill="#adadad"/><rect x="140.25" y="553.00" width="11.85" height="18.00" fill="#adadad"/><rect x="154.00" y="553.00" width="12.30" height="18.00" fill="#adadad"/><rect x="123.85" y="0.00" width="3.40" height="640.00" fill="#575757"/><rect x="124.70" y="0.00" width="1.70" height="640.00" fill="#1f1f1f"/><rect x="137.62" y="0.00" width="3.40" height="640.00" fill="#575757"/><rect x="138.47" y="0.00" width="1.70" height="640.00" fill="#333333"/><rect x="151.35" y="0.00" width="3.40" height="640.00" fill="#575757"/><rect x="152.20" y="0.00" width="1.70" height="640.00" fill="#333333"/></g><g filter="url(#jo)"><rect x="112.00" y="1.00" width="12.60" height="8.00" fill="#c2c2c2"/><rect x="112.00" y="12.00" width="12.60" height="8.00" fill="#c2c2c2"/><rect x="112.00" y="24.00" width="12.60" height="9.00" fill="#c9c9c9"/><rect x="126.50" y="2.00" width="11.90" height="8.00" fill="#c4c4c4"/><rect x="126.50" y="15.00" width="11.90" height="3.00" fill="#b8b8b8"/><rect x="126.50" y="24.00" width="11.90" height="6.00" fill="#bdbdbd"/><rect x="140.25" y="3.00" width="11.85" height="4.00" fill="#bababa"/><rect x="112.00" y="48.00" width="12.60" height="7.00" fill="#bdbdbd"/><rect x="112.00" y="68.00" width="12.60" height="2.00" fill="#b2b2b2"/><rect x="126.50" y="68.00" width="11.90" height="2.00" fill="#b2b2b2"/><rect x="140.25" y="68.00" width="11.85" height="2.00" fill="#b2b2b2"/><rect x="112.00" y="73.00" width="12.60" height="4.00" fill="#b2b2b2"/><rect x="126.50" y="73.00" width="11.90" height="4.00" fill="#b2b2b2"/><rect x="140.25" y="73.00" width="11.85" height="4.00" fill="#b2b2b2"/><rect x="112.00" y="84.00" width="12.60" height="8.00" fill="#b8b8b8"/><rect x="126.50" y="84.00" width="11.90" height="8.00" fill="#b8b8b8"/><rect x="126.50" y="93.00" width="11.90" height="10.00" fill="#c2c2c2"/><rect x="112.00" y="108.00" width="12.60" height="10.00" fill="#c2c2c2"/><rect x="126.50" y="108.00" width="11.90" height="4.00" fill="#b8b8b8"/><rect x="112.00" y="123.00" width="12.60" height="3.00" fill="#b8b8b8"/><rect x="126.50" y="123.00" width="11.90" height="3.00" fill="#b8b8b8"/><rect x="112.00" y="130.00" width="12.60" height="3.00" fill="#b8b8b8"/><rect x="126.50" y="130.00" width="11.90" height="3.00" fill="#b8b8b8"/><rect x="112.00" y="175.00" width="12.60" height="3.00" fill="#d1d1d1"/><rect x="126.50" y="175.00" width="11.90" height="3.00" fill="#d1d1d1"/><rect x="140.25" y="175.00" width="11.85" height="3.00" fill="#d1d1d1"/><rect x="154.00" y="175.00" width="12.30" height="3.00" fill="#d1d1d1"/><rect x="112.00" y="184.00" width="12.60" height="4.00" fill="#b8b8b8"/><rect x="126.50" y="184.00" width="11.90" height="4.00" fill="#b8b8b8"/><rect x="140.25" y="184.00" width="11.85" height="4.00" fill="#b8b8b8"/><rect x="154.00" y="184.00" width="12.30" height="4.00" fill="#b8b8b8"/><rect x="112.00" y="187.00" width="12.60" height="2.00" fill="#c2c2c2"/><rect x="140.25" y="190.00" width="11.85" height="2.00" fill="#b2b2b2"/><rect x="112.00" y="196.00" width="12.60" height="4.00" fill="#b2b2b2"/><rect x="126.50" y="196.00" width="11.90" height="4.00" fill="#b2b2b2"/><rect x="140.25" y="196.00" width="11.85" height="4.00" fill="#b2b2b2"/><rect x="112.00" y="208.00" width="12.60" height="10.00" fill="#bdbdbd"/><rect x="126.50" y="208.00" width="11.90" height="10.00" fill="#b8b8b8"/><rect x="140.25" y="210.00" width="11.85" height="7.00" fill="#b2b2b2"/><rect x="154.00" y="210.00" width="12.30" height="7.00" fill="#b2b2b2"/><rect x="126.50" y="245.00" width="11.90" height="5.00" fill="#b2b2b2"/><rect x="140.25" y="245.00" width="11.85" height="5.00" fill="#b2b2b2"/><rect x="126.50" y="256.00" width="11.90" height="4.00" fill="#b2b2b2"/><rect x="112.00" y="276.00" width="12.60" height="3.00" fill="#cccccc"/><rect x="126.50" y="276.00" width="11.90" height="3.00" fill="#cccccc"/><rect x="140.25" y="276.00" width="11.85" height="3.00" fill="#cccccc"/><rect x="154.00" y="276.00" width="12.30" height="3.00" fill="#cccccc"/><rect x="112.00" y="320.00" width="12.60" height="4.00" fill="#b8b8b8"/><rect x="126.50" y="320.00" width="11.90" height="4.00" fill="#b8b8b8"/><rect x="140.25" y="320.00" width="11.85" height="4.00" fill="#b8b8b8"/><rect x="154.00" y="320.00" width="12.30" height="4.00" fill="#b8b8b8"/><rect x="112.00" y="338.00" width="12.60" height="22.00" fill="#b2b2b2"/><rect x="112.00" y="342.00" width="12.60" height="3.00" fill="#bdbdbd"/><rect x="126.50" y="342.00" width="11.90" height="3.00" fill="#bdbdbd"/><rect x="140.25" y="342.00" width="11.85" height="3.00" fill="#bdbdbd"/><rect x="154.00" y="342.00" width="12.30" height="3.00" fill="#bdbdbd"/><rect x="112.00" y="351.00" width="12.60" height="2.00" fill="#bdbdbd"/><rect x="126.50" y="351.00" width="11.90" height="2.00" fill="#bdbdbd"/><rect x="112.00" y="386.00" width="12.60" height="11.00" fill="#c4c4c4"/><rect x="126.50" y="386.00" width="11.90" height="11.00" fill="#c4c4c4"/><rect x="140.25" y="386.00" width="11.85" height="11.00" fill="#b8b8b8"/><rect x="112.00" y="410.00" width="12.60" height="10.00" fill="#b8b8b8"/><rect x="126.50" y="410.00" width="11.90" height="10.00" fill="#b8b8b8"/><rect x="140.25" y="410.00" width="11.85" height="10.00" fill="#b8b8b8"/><rect x="154.00" y="410.00" width="12.30" height="10.00" fill="#b8b8b8"/><rect x="112.00" y="425.00" width="12.60" height="11.00" fill="#b8b8b8"/><rect x="126.50" y="425.00" width="11.90" height="11.00" fill="#b8b8b8"/><rect x="140.25" y="425.00" width="11.85" height="11.00" fill="#b8b8b8"/><rect x="154.00" y="425.00" width="12.30" height="11.00" fill="#b8b8b8"/><rect x="112.00" y="440.00" width="12.60" height="22.00" fill="#b5b5b5"/><rect x="126.50" y="440.00" width="11.90" height="22.00" fill="#b5b5b5"/><rect x="140.25" y="440.00" width="11.85" height="22.00" fill="#b5b5b5"/><rect x="112.00" y="446.00" width="12.60" height="2.00" fill="#c2c2c2"/><rect x="126.50" y="446.00" width="11.90" height="2.00" fill="#c2c2c2"/><rect x="140.25" y="446.00" width="11.85" height="2.00" fill="#c2c2c2"/><rect x="112.00" y="455.00" width="12.60" height="3.00" fill="#c2c2c2"/><rect x="126.50" y="455.00" width="11.90" height="3.00" fill="#c2c2c2"/><rect x="140.25" y="455.00" width="11.85" height="3.00" fill="#c2c2c2"/><rect x="112.00" y="484.00" width="12.60" height="4.00" fill="#b8b8b8"/><rect x="154.00" y="484.00" width="12.30" height="4.00" fill="#b8b8b8"/><rect x="112.00" y="539.00" width="12.60" height="3.00" fill="#d1d1d1"/><rect x="126.50" y="539.00" width="11.90" height="3.00" fill="#d1d1d1"/><rect x="140.25" y="539.00" width="11.85" height="3.00" fill="#d1d1d1"/><rect x="154.00" y="539.00" width="12.30" height="3.00" fill="#d1d1d1"/><rect x="112.00" y="544.00" width="12.60" height="8.00" fill="#c7c7c7"/><rect x="126.50" y="544.00" width="11.90" height="8.00" fill="#c7c7c7"/><rect x="140.25" y="544.00" width="11.85" height="8.00" fill="#c7c7c7"/><rect x="154.00" y="544.00" width="12.30" height="8.00" fill="#c7c7c7"/><rect x="112.00" y="553.00" width="12.60" height="18.00" fill="#c2c2c2"/></g><g filter="url(#jc)"><rect x="0" y="529" width="177" height="10" fill="url(#ev2)"/><rect x="88" y="529" width="24" height="5" fill="url(#ev2b)"/><rect x="112.00" y="529.00" width="54.30" height="10.00" fill="#adadad"/><rect x="112.50" y="529" width="11.60" height="10" fill="url(#blk)"/><rect x="127.00" y="529" width="10.90" height="10" fill="url(#blk)"/><rect x="140.75" y="529" width="10.85" height="10" fill="url(#blk)"/><rect x="154.50" y="529" width="11.30" height="10" fill="url(#blk)"/></g><rect x="0.00" y="34.00" width="177.00" height="2.00" fill="#000000"/><rect x="0.00" y="39.00" width="177.00" height="4.00" fill="#ffffff"/><rect x="0.00" y="46.00" width="177.00" height="1.00" fill="#000000"/><rect x="0.00" y="59.00" width="177.00" height="2.00" fill="#ffffff"/><rect x="0.00" y="62.00" width="177.00" height="3.00" fill="#ffffff"/><rect x="0.00" y="69.00" width="177.00" height="1.00" fill="#000000"/><rect x="0.00" y="71.00" width="177.00" height="1.00" fill="#000000"/><rect x="0.00" y="77.00" width="177.00" height="1.00" fill="#000000"/><rect x="0.00" y="79.00" width="177.00" height="3.00" fill="#000000"/><rect x="0.00" y="82.00" width="177.00" height="1.00" fill="#ffffff"/><rect x="0.00" y="83.00" width="177.00" height="1.00" fill="#000000"/><rect x="0.00" y="90.00" width="177.00" height="1.00" fill="#000000"/><rect x="0.00" y="92.00" width="177.00" height="1.00" fill="#000000"/><rect x="0.00" y="102.00" width="177.00" height="2.00" fill="#000000"/><rect x="0.00" y="114.00" width="177.00" height="1.00" fill="#000000"/><rect x="0.00" y="119.00" width="177.00" height="2.00" fill="#000000"/><rect x="0.00" y="127.00" width="177.00" height="1.00" fill="#000000"/><rect x="0.00" y="135.00" width="177.00" height="1.00" fill="#000000"/><rect x="0.00" y="138.00" width="177.00" height="1.00" fill="#ffffff"/><rect x="0.00" y="140.00" width="177.00" height="2.00" fill="#ffffff"/><rect x="0.00" y="153.00" width="177.00" height="1.00" fill="#000000"/><rect x="0.00" y="157.00" width="177.00" height="1.00" fill="#ffffff"/><rect x="0.00" y="160.00" width="177.00" height="2.00" fill="#ffffff"/><rect x="0.00" y="164.00" width="177.00" height="1.00" fill="#ffffff"/><rect x="0.00" y="166.00" width="177.00" height="2.00" fill="#ffffff"/><rect x="0.00" y="169.00" width="177.00" height="2.00" fill="#ffffff"/><rect x="0.00" y="173.00" width="177.00" height="2.00" fill="#ffffff"/><rect x="0.00" y="175.00" width="177.00" height="1.00" fill="#000000"/><rect x="0.00" y="178.00" width="177.00" height="1.00" fill="#000000"/><rect x="0.00" y="183.00" width="177.00" height="1.00" fill="#ffffff"/><rect x="0.00" y="189.00" width="177.00" height="1.00" fill="#ffffff"/><rect x="0.00" y="196.00" width="177.00" height="1.00" fill="#000000"/><rect x="0.00" y="199.00" width="177.00" height="1.00" fill="#000000"/><rect x="0.00" y="201.00" width="177.00" height="1.00" fill="#000000"/><rect x="0.00" y="204.00" width="177.00" height="1.00" fill="#000000"/><rect x="0.00" y="207.00" width="177.00" height="2.00" fill="#000000"/><rect x="0.00" y="219.00" width="177.00" height="1.00" fill="#000000"/><rect x="0.00" y="220.00" width="177.00" height="2.00" fill="#ffffff"/><rect x="0.00" y="226.00" width="177.00" height="1.00" fill="#000000"/><rect x="0.00" y="229.00" width="177.00" height="2.00" fill="#000000"/><rect x="0.00" y="236.00" width="177.00" height="1.00" fill="#000000"/><rect x="0.00" y="241.00" width="177.00" height="1.00" fill="#000000"/><rect x="0.00" y="243.00" width="177.00" height="1.00" fill="#ffffff"/><rect x="0.00" y="250.00" width="177.00" height="1.00" fill="#ffffff"/><rect x="0.00" y="262.00" width="177.00" height="1.00" fill="#ffffff"/><rect x="0.00" y="270.00" width="177.00" height="1.00" fill="#000000"/><rect x="0.00" y="274.00" width="177.00" height="2.00" fill="#000000"/><rect x="0.00" y="279.00" width="177.00" height="6.00" fill="#ffffff"/><rect x="0.00" y="300.00" width="177.00" height="1.00" fill="#000000"/><rect x="0.00" y="304.00" width="177.00" height="1.00" fill="#ffffff"/><rect x="0.00" y="306.00" width="177.00" height="1.00" fill="#ffffff"/><rect x="0.00" y="312.00" width="177.00" height="1.00" fill="#000000"/><rect x="0.00" y="325.00" width="177.00" height="1.00" fill="#000000"/><rect x="0.00" y="329.00" width="177.00" height="2.00" fill="#000000"/><rect x="0.00" y="332.00" width="177.00" height="5.00" fill="#ffffff"/><rect x="0.00" y="345.00" width="177.00" height="1.00" fill="#000000"/><rect x="0.00" y="358.00" width="177.00" height="1.00" fill="#000000"/><rect x="0.00" y="365.00" width="177.00" height="1.00" fill="#ffffff"/><rect x="0.00" y="369.00" width="177.00" height="1.00" fill="#ffffff"/><rect x="0.00" y="370.00" width="177.00" height="1.00" fill="#000000"/><rect x="0.00" y="375.00" width="177.00" height="2.00" fill="#ffffff"/><rect x="0.00" y="378.00" width="177.00" height="2.00" fill="#000000"/><rect x="0.00" y="398.00" width="177.00" height="2.00" fill="#ffffff"/><rect x="0.00" y="401.00" width="177.00" height="2.00" fill="#000000"/><rect x="0.00" y="404.00" width="177.00" height="1.00" fill="#000000"/><rect x="0.00" y="405.00" width="177.00" height="3.00" fill="#ffffff"/><rect x="0.00" y="411.00" width="177.00" height="2.00" fill="#000000"/><rect x="0.00" y="414.00" width="177.00" height="2.00" fill="#000000"/><rect x="0.00" y="422.00" width="177.00" height="1.00" fill="#000000"/><rect x="0.00" y="423.00" width="177.00" height="1.00" fill="#ffffff"/><rect x="0.00" y="438.00" width="177.00" height="1.00" fill="#000000"/><rect x="0.00" y="442.00" width="177.00" height="1.00" fill="#ffffff"/><rect x="0.00" y="443.00" width="177.00" height="2.00" fill="#000000"/><rect x="0.00" y="452.00" width="177.00" height="2.00" fill="#ffffff"/><rect x="0.00" y="463.00" width="177.00" height="1.00" fill="#000000"/><rect x="0.00" y="464.00" width="177.00" height="5.00" fill="#ffffff"/><rect x="0.00" y="472.00" width="177.00" height="1.00" fill="#000000"/><rect x="0.00" y="475.00" width="177.00" height="1.00" fill="#000000"/><rect x="0.00" y="483.00" width="177.00" height="1.00" fill="#ffffff"/><rect x="0.00" y="499.00" width="177.00" height="1.00" fill="#000000"/><rect x="0.00" y="505.00" width="177.00" height="1.00" fill="#000000"/><rect x="0.00" y="510.00" width="177.00" height="1.00" fill="#ffffff"/><rect x="0.00" y="522.00" width="177.00" height="2.00" fill="#000000"/><rect x="0.00" y="524.00" width="177.00" height="5.00" fill="#ffffff"/><rect x="0.00" y="542.00" width="177.00" height="1.00" fill="#ffffff"/><rect x="0.00" y="545.00" width="177.00" height="1.00" fill="#ffffff"/><rect x="0.00" y="547.00" width="177.00" height="1.00" fill="#ffffff"/><rect x="0.00" y="550.00" width="177.00" height="2.00" fill="#ffffff"/><rect x="0.00" y="559.00" width="177.00" height="2.00" fill="#ffffff"/><rect x="0.00" y="562.00" width="177.00" height="1.00" fill="#ffffff"/><rect x="0.00" y="572.00" width="177.00" height="3.00" fill="#000000"/><rect x="0.00" y="578.00" width="177.00" height="1.00" fill="#000000"/><rect x="0.00" y="582.00" width="177.00" height="5.00" fill="#ffffff"/><rect x="0.00" y="587.00" width="177.00" height="1.00" fill="#000000"/><rect x="0.00" y="594.00" width="177.00" height="2.00" fill="#000000"/><rect x="0.00" y="599.00" width="177.00" height="2.00" fill="#ffffff"/><rect x="0.00" y="626.00" width="177.00" height="1.00" fill="#ffffff"/><rect x="0.00" y="633.00" width="177.00" height="2.00" fill="#000000"/><rect x="0.00" y="637.00" width="177.00" height="3.00" fill="#ffffff"/></g><rect x="556.5" y="80.5" width="177" height="640" fill="none" stroke="#000" stroke-width="1"/><rect x="556" y="714" width="1" height="6" fill="#000"/><rect x="556" y="80" width="1" height="6" fill="#000"/><rect x="598" y="714" width="1" height="6" fill="#000"/><rect x="598" y="80" width="1" height="6" fill="#000"/><rect x="639" y="714" width="1" height="6" fill="#000"/><rect x="639" y="80" width="1" height="6" fill="#000"/><rect x="681" y="714" width="1" height="6" fill="#000"/><rect x="681" y="80" width="1" height="6" fill="#000"/><rect x="722" y="714" width="1" height="6" fill="#000"/><rect x="722" y="80" width="1" height="6" fill="#000"/><rect x="556" y="720" width="6" height="1" fill="#000"/><rect x="727" y="720" width="6" height="1" fill="#000"/><rect x="556" y="587" width="6" height="1" fill="#000"/><rect x="727" y="587" width="6" height="1" fill="#000"/><rect x="556" y="453" width="6" height="1" fill="#000"/><rect x="727" y="453" width="6" height="1" fill="#000"/><rect x="556" y="320" width="6" height="1" fill="#000"/><rect x="727" y="320" width="6" height="1" fill="#000"/><rect x="556" y="187" width="6" height="1" fill="#000"/><rect x="727" y="187" width="6" height="1" fill="#000"/><g transform="translate(768,80)"><g filter="url(#jn)"><rect x="0.00" y="0.00" width="177.00" height="640.00" fill="#333333"/><rect x="0.00" y="70.00" width="112.00" height="1.00" fill="#525252"/><rect x="0.00" y="78.00" width="112.00" height="1.00" fill="#525252"/><rect x="0.00" y="91.00" width="112.00" height="1.00" fill="#4c4c4c"/><rect x="0.00" y="240.00" width="112.00" height="1.00" fill="#525252"/><rect x="0.00" y="216.00" width="112.00" height="1.00" fill="#4c4c4c"/><rect x="0.00" y="186.00" width="112.00" height="2.00" fill="#454545"/><rect x="0.00" y="481.00" width="112.00" height="1.00" fill="#4c4c4c"/><rect x="95" y="1" width="17" height="32" fill="url(#glw25)"/><rect x="0.00" y="529.00" width="112.00" height="10.00" fill="#404040"/><rect x="0.00" y="533.00" width="95.00" height="1.50" fill="#4c4c4c"/></g><g filter="url(#jb)"><rect x="112.00" y="0.00" width="12.60" height="640.00" fill="#9e9e9e"/><rect x="126.50" y="0.00" width="11.90" height="640.00" fill="#999999"/><rect x="140.25" y="0.00" width="11.85" height="640.00" fill="#878787"/><rect x="154.00" y="0.00" width="12.30" height="640.00" fill="#787878"/><rect x="112.00" y="231.00" width="12.60" height="5.00" fill="#808080"/><rect x="126.50" y="231.00" width="11.90" height="5.00" fill="#808080"/><rect x="140.25" y="231.00" width="11.85" height="5.00" fill="#808080"/><rect x="154.00" y="231.00" width="12.30" height="5.00" fill="#808080"/><rect x="123.85" y="0.00" width="3.40" height="640.00" fill="#575757"/><rect x="124.70" y="0.00" width="1.70" height="640.00" fill="#1f1f1f"/><rect x="137.62" y="0.00" width="3.40" height="640.00" fill="#575757"/><rect x="138.47" y="0.00" width="1.70" height="640.00" fill="#333333"/><rect x="151.35" y="0.00" width="3.40" height="640.00" fill="#575757"/><rect x="152.20" y="0.00" width="1.70" height="640.00" fill="#333333"/></g><g filter="url(#jo)"><rect x="112.00" y="2.00" width="12.60" height="4.00" fill="#bdbdbd"/><rect x="112.00" y="18.00" width="12.60" height="6.00" fill="#b8b8b8"/><rect x="126.50" y="2.00" width="11.90" height="8.00" fill="#c2c2c2"/><rect x="126.50" y="16.00" width="11.90" height="2.00" fill="#b8b8b8"/><rect x="140.25" y="4.00" width="11.85" height="4.00" fill="#b2b2b2"/><rect x="112.00" y="86.00" width="12.60" height="16.00" fill="#b8b8b8"/><rect x="126.50" y="86.00" width="11.90" height="16.00" fill="#b8b8b8"/><rect x="112.00" y="108.00" width="12.60" height="4.00" fill="#bdbdbd"/><rect x="112.00" y="176.00" width="12.60" height="2.00" fill="#c7c7c7"/><rect x="126.50" y="176.00" width="11.90" height="2.00" fill="#c7c7c7"/><rect x="140.25" y="176.00" width="11.85" height="2.00" fill="#c7c7c7"/><rect x="154.00" y="176.00" width="12.30" height="2.00" fill="#c7c7c7"/><rect x="112.00" y="186.00" width="12.60" height="4.00" fill="#b8b8b8"/><rect x="112.00" y="276.00" width="12.60" height="3.00" fill="#c2c2c2"/><rect x="126.50" y="276.00" width="11.90" height="3.00" fill="#c2c2c2"/><rect x="140.25" y="276.00" width="11.85" height="3.00" fill="#c2c2c2"/><rect x="154.00" y="276.00" width="12.30" height="3.00" fill="#c2c2c2"/><rect x="112.00" y="300.00" width="12.60" height="12.00" fill="#b8b8b8"/><rect x="126.50" y="300.00" width="11.90" height="12.00" fill="#b8b8b8"/><rect x="140.25" y="337.00" width="11.85" height="5.00" fill="#bdbdbd"/><rect x="112.00" y="337.00" width="12.60" height="5.00" fill="#b2b2b2"/><rect x="112.00" y="390.00" width="12.60" height="8.00" fill="#c2c2c2"/><rect x="126.50" y="390.00" width="11.90" height="8.00" fill="#c2c2c2"/><rect x="140.25" y="390.00" width="11.85" height="8.00" fill="#b2b2b2"/><rect x="112.00" y="432.00" width="12.60" height="4.00" fill="#bdbdbd"/><rect x="126.50" y="432.00" width="11.90" height="4.00" fill="#bdbdbd"/><rect x="112.00" y="450.00" width="12.60" height="2.00" fill="#bdbdbd"/><rect x="126.50" y="450.00" width="11.90" height="2.00" fill="#bdbdbd"/><rect x="140.25" y="450.00" width="11.85" height="2.00" fill="#bdbdbd"/><rect x="154.00" y="450.00" width="12.30" height="2.00" fill="#bdbdbd"/><rect x="112.00" y="457.00" width="12.60" height="6.00" fill="#b8b8b8"/><rect x="126.50" y="457.00" width="11.90" height="6.00" fill="#b8b8b8"/><rect x="112.00" y="539.00" width="12.60" height="3.00" fill="#cccccc"/><rect x="126.50" y="539.00" width="11.90" height="3.00" fill="#cccccc"/><rect x="140.25" y="539.00" width="11.85" height="3.00" fill="#cccccc"/><rect x="154.00" y="539.00" width="12.30" height="3.00" fill="#cccccc"/><rect x="112.00" y="544.00" width="12.60" height="6.00" fill="#c2c2c2"/><rect x="126.50" y="544.00" width="11.90" height="6.00" fill="#c2c2c2"/><rect x="140.25" y="544.00" width="11.85" height="6.00" fill="#c2c2c2"/><rect x="154.00" y="544.00" width="12.30" height="6.00" fill="#c2c2c2"/></g><g filter="url(#jc)"><rect x="72" y="529" width="40" height="10" fill="url(#ev0)"/><rect x="112.00" y="529.00" width="54.30" height="10.00" fill="#9e9e9e"/><rect x="166.30" y="529.00" width="10.70" height="10.00" fill="#737373"/><rect x="112.50" y="529" width="11.60" height="10" fill="url(#blk)"/><rect x="127.00" y="529" width="10.90" height="10" fill="url(#blk)"/><rect x="140.75" y="529" width="10.85" height="10" fill="url(#blk)"/><rect x="154.50" y="529" width="11.30" height="10" fill="url(#blk)"/></g><rect x="0.00" y="34.00" width="177.00" height="2.00" fill="#000000"/><rect x="0.00" y="39.00" width="177.00" height="4.00" fill="#ffffff"/><rect x="0.00" y="46.00" width="177.00" height="1.00" fill="#000000"/><rect x="0.00" y="59.00" width="177.00" height="2.00" fill="#ffffff"/><rect x="0.00" y="62.00" width="177.00" height="3.00" fill="#ffffff"/><rect x="0.00" y="69.00" width="177.00" height="1.00" fill="#000000"/><rect x="0.00" y="71.00" width="177.00" height="1.00" fill="#000000"/><rect x="0.00" y="77.00" width="177.00" height="1.00" fill="#000000"/><rect x="0.00" y="79.00" width="177.00" height="3.00" fill="#000000"/><rect x="0.00" y="82.00" width="177.00" height="1.00" fill="#ffffff"/><rect x="0.00" y="83.00" width="177.00" height="1.00" fill="#000000"/><rect x="0.00" y="90.00" width="177.00" height="1.00" fill="#000000"/><rect x="0.00" y="92.00" width="177.00" height="1.00" fill="#000000"/><rect x="0.00" y="102.00" width="177.00" height="2.00" fill="#000000"/><rect x="0.00" y="114.00" width="177.00" height="1.00" fill="#000000"/><rect x="0.00" y="119.00" width="177.00" height="2.00" fill="#000000"/><rect x="0.00" y="127.00" width="177.00" height="1.00" fill="#000000"/><rect x="0.00" y="135.00" width="177.00" height="1.00" fill="#000000"/><rect x="0.00" y="138.00" width="177.00" height="1.00" fill="#ffffff"/><rect x="0.00" y="140.00" width="177.00" height="2.00" fill="#ffffff"/><rect x="0.00" y="153.00" width="177.00" height="1.00" fill="#000000"/><rect x="0.00" y="157.00" width="177.00" height="1.00" fill="#ffffff"/><rect x="0.00" y="160.00" width="177.00" height="2.00" fill="#ffffff"/><rect x="0.00" y="164.00" width="177.00" height="1.00" fill="#ffffff"/><rect x="0.00" y="166.00" width="177.00" height="2.00" fill="#ffffff"/><rect x="0.00" y="169.00" width="177.00" height="2.00" fill="#ffffff"/><rect x="0.00" y="173.00" width="177.00" height="2.00" fill="#ffffff"/><rect x="0.00" y="175.00" width="177.00" height="1.00" fill="#000000"/><rect x="0.00" y="178.00" width="177.00" height="1.00" fill="#000000"/><rect x="0.00" y="183.00" width="177.00" height="1.00" fill="#ffffff"/><rect x="0.00" y="189.00" width="177.00" height="1.00" fill="#ffffff"/><rect x="0.00" y="196.00" width="177.00" height="1.00" fill="#000000"/><rect x="0.00" y="199.00" width="177.00" height="1.00" fill="#000000"/><rect x="0.00" y="201.00" width="177.00" height="1.00" fill="#000000"/><rect x="0.00" y="204.00" width="177.00" height="1.00" fill="#000000"/><rect x="0.00" y="207.00" width="177.00" height="2.00" fill="#000000"/><rect x="0.00" y="219.00" width="177.00" height="1.00" fill="#000000"/><rect x="0.00" y="220.00" width="177.00" height="2.00" fill="#ffffff"/><rect x="0.00" y="226.00" width="177.00" height="1.00" fill="#000000"/><rect x="0.00" y="229.00" width="177.00" height="2.00" fill="#000000"/><rect x="0.00" y="236.00" width="177.00" height="1.00" fill="#000000"/><rect x="0.00" y="241.00" width="177.00" height="1.00" fill="#000000"/><rect x="0.00" y="243.00" width="177.00" height="1.00" fill="#ffffff"/><rect x="0.00" y="250.00" width="177.00" height="1.00" fill="#ffffff"/><rect x="0.00" y="262.00" width="177.00" height="1.00" fill="#ffffff"/><rect x="0.00" y="270.00" width="177.00" height="1.00" fill="#000000"/><rect x="0.00" y="274.00" width="177.00" height="2.00" fill="#000000"/><rect x="0.00" y="279.00" width="177.00" height="6.00" fill="#ffffff"/><rect x="0.00" y="300.00" width="177.00" height="1.00" fill="#000000"/><rect x="0.00" y="304.00" width="177.00" height="1.00" fill="#ffffff"/><rect x="0.00" y="306.00" width="177.00" height="1.00" fill="#ffffff"/><rect x="0.00" y="312.00" width="177.00" height="1.00" fill="#000000"/><rect x="0.00" y="325.00" width="177.00" height="1.00" fill="#000000"/><rect x="0.00" y="329.00" width="177.00" height="2.00" fill="#000000"/><rect x="0.00" y="332.00" width="177.00" height="5.00" fill="#ffffff"/><rect x="0.00" y="345.00" width="177.00" height="1.00" fill="#000000"/><rect x="0.00" y="358.00" width="177.00" height="1.00" fill="#000000"/><rect x="0.00" y="365.00" width="177.00" height="1.00" fill="#ffffff"/><rect x="0.00" y="369.00" width="177.00" height="1.00" fill="#ffffff"/><rect x="0.00" y="370.00" width="177.00" height="1.00" fill="#000000"/><rect x="0.00" y="375.00" width="177.00" height="2.00" fill="#ffffff"/><rect x="0.00" y="378.00" width="177.00" height="2.00" fill="#000000"/><rect x="0.00" y="398.00" width="177.00" height="2.00" fill="#ffffff"/><rect x="0.00" y="401.00" width="177.00" height="2.00" fill="#000000"/><rect x="0.00" y="404.00" width="177.00" height="1.00" fill="#000000"/><rect x="0.00" y="405.00" width="177.00" height="3.00" fill="#ffffff"/><rect x="0.00" y="411.00" width="177.00" height="2.00" fill="#000000"/><rect x="0.00" y="414.00" width="177.00" height="2.00" fill="#000000"/><rect x="0.00" y="422.00" width="177.00" height="1.00" fill="#000000"/><rect x="0.00" y="423.00" width="177.00" height="1.00" fill="#ffffff"/><rect x="0.00" y="438.00" width="177.00" height="1.00" fill="#000000"/><rect x="0.00" y="442.00" width="177.00" height="1.00" fill="#ffffff"/><rect x="0.00" y="443.00" width="177.00" height="2.00" fill="#000000"/><rect x="0.00" y="452.00" width="177.00" height="2.00" fill="#ffffff"/><rect x="0.00" y="463.00" width="177.00" height="1.00" fill="#000000"/><rect x="0.00" y="464.00" width="177.00" height="5.00" fill="#ffffff"/><rect x="0.00" y="472.00" width="177.00" height="1.00" fill="#000000"/><rect x="0.00" y="475.00" width="177.00" height="1.00" fill="#000000"/><rect x="0.00" y="483.00" width="177.00" height="1.00" fill="#ffffff"/><rect x="0.00" y="499.00" width="177.00" height="1.00" fill="#000000"/><rect x="0.00" y="505.00" width="177.00" height="1.00" fill="#000000"/><rect x="0.00" y="510.00" width="177.00" height="1.00" fill="#ffffff"/><rect x="0.00" y="522.00" width="177.00" height="2.00" fill="#000000"/><rect x="0.00" y="524.00" width="177.00" height="5.00" fill="#ffffff"/><rect x="0.00" y="542.00" width="177.00" height="1.00" fill="#ffffff"/><rect x="0.00" y="545.00" width="177.00" height="1.00" fill="#ffffff"/><rect x="0.00" y="547.00" width="177.00" height="1.00" fill="#ffffff"/><rect x="0.00" y="550.00" width="177.00" height="2.00" fill="#ffffff"/><rect x="0.00" y="559.00" width="177.00" height="2.00" fill="#ffffff"/><rect x="0.00" y="562.00" width="177.00" height="1.00" fill="#ffffff"/><rect x="0.00" y="572.00" width="177.00" height="3.00" fill="#000000"/><rect x="0.00" y="578.00" width="177.00" height="1.00" fill="#000000"/><rect x="0.00" y="582.00" width="177.00" height="5.00" fill="#ffffff"/><rect x="0.00" y="587.00" width="177.00" height="1.00" fill="#000000"/><rect x="0.00" y="594.00" width="177.00" height="2.00" fill="#000000"/><rect x="0.00" y="599.00" width="177.00" height="2.00" fill="#ffffff"/><rect x="0.00" y="626.00" width="177.00" height="1.00" fill="#ffffff"/><rect x="0.00" y="633.00" width="177.00" height="2.00" fill="#000000"/><rect x="0.00" y="637.00" width="177.00" height="3.00" fill="#ffffff"/></g><rect x="768.5" y="80.5" width="177" height="640" fill="none" stroke="#000" stroke-width="1"/><rect x="768" y="714" width="1" height="6" fill="#000"/><rect x="768" y="80" width="1" height="6" fill="#000"/><rect x="810" y="714" width="1" height="6" fill="#000"/><rect x="810" y="80" width="1" height="6" fill="#000"/><rect x="851" y="714" width="1" height="6" fill="#000"/><rect x="851" y="80" width="1" height="6" fill="#000"/><rect x="893" y="714" width="1" height="6" fill="#000"/><rect x="893" y="80" width="1" height="6" fill="#000"/><rect x="934" y="714" width="1" height="6" fill="#000"/><rect x="934" y="80" width="1" height="6" fill="#000"/><rect x="768" y="720" width="6" height="1" fill="#000"/><rect x="939" y="720" width="6" height="1" fill="#000"/><rect x="768" y="587" width="6" height="1" fill="#000"/><rect x="939" y="587" width="6" height="1" fill="#000"/><rect x="768" y="453" width="6" height="1" fill="#000"/><rect x="939" y="453" width="6" height="1" fill="#000"/><rect x="768" y="320" width="6" height="1" fill="#000"/><rect x="939" y="320" width="6" height="1" fill="#000"/><rect x="768" y="187" width="6" height="1" fill="#000"/><rect x="939" y="187" width="6" height="1" fill="#000"/><rect x="1019.5" y="160.5" width="15" height="480" fill="url(#jetg)" stroke="#000" stroke-width="1"/><line x1="1020" y1="256.5" x2="1025" y2="256.5" stroke="#000"/><line x1="1029" y1="256.5" x2="1034" y2="256.5" stroke="#000"/><line x1="1020" y1="352.5" x2="1025" y2="352.5" stroke="#000"/><line x1="1029" y1="352.5" x2="1034" y2="352.5" stroke="#000"/><line x1="1020" y1="448.5" x2="1025" y2="448.5" stroke="#000"/><line x1="1029" y1="448.5" x2="1034" y2="448.5" stroke="#000"/><line x1="1020" y1="544.5" x2="1025" y2="544.5" stroke="#000"/><line x1="1029" y1="544.5" x2="1034" y2="544.5" stroke="#000"/><line x1="1022.5" y1="160" x2="1022.5" y2="166" stroke="#000"/><line x1="1022.5" y1="634" x2="1022.5" y2="640" stroke="#000"/><line x1="1025.5" y1="160" x2="1025.5" y2="166" stroke="#000"/><line x1="1025.5" y1="634" x2="1025.5" y2="640" stroke="#000"/><line x1="1028.5" y1="160" x2="1028.5" y2="166" stroke="#000"/><line x1="1028.5" y1="634" x2="1028.5" y2="640" stroke="#000"/><line x1="1031.5" y1="160" x2="1031.5" y2="166" stroke="#000"/><line x1="1031.5" y1="634" x2="1031.5" y2="640" stroke="#000"/><rect x="1017.5" y="646" width="1" height="1" fill="#888"/><rect x="1021.5" y="646" width="1" height="1" fill="#888"/><rect x="1024.5" y="646" width="1" height="1" fill="#888"/><rect x="1027.5" y="646" width="1" height="1" fill="#888"/><rect x="1030.5" y="646" width="1" height="1" fill="#888"/><rect x="1033.5" y="646" width="1" height="1" fill="#888"/></svg>
<div class="t" style="left:525px;top:16px;font-size:12.5px;transform:scaleX(1.13);transform-origin:0 0">2021-09-05 0.0-24.0</div><div class="t c" style="left:69.5px;width:300px;top:60px;font-size:16px;transform:scaleX(1.03)">XX, V15*V17=EA26*EA21</div><div class="t r" style="right:924px;top:713.0px;font-size:12.5px">0</div><div class="t r" style="right:924px;top:579.7px;font-size:12.5px">5</div><div class="t r" style="right:924px;top:446.3px;font-size:12.5px">10</div><div class="t r" style="right:924px;top:313.0px;font-size:12.5px">15</div><div class="t r" style="right:924px;top:179.7px;font-size:12.5px">20</div><div class="t c" style="left:111.0px;width:40px;top:726px;font-size:12.5px;transform:scaleX(1.08)">320</div><div class="t c" style="left:152.5px;width:40px;top:726px;font-size:12.5px;transform:scaleX(1.08)">335</div><div class="t c" style="left:194.0px;width:40px;top:726px;font-size:12.5px;transform:scaleX(1.08)">350</div><div class="t c" style="left:235.5px;width:40px;top:726px;font-size:12.5px;transform:scaleX(1.08)">365</div><div class="t c" style="left:276.9px;width:40px;top:726px;font-size:12.5px;transform:scaleX(1.08)">380</div><div class="t c" style="left:282.0px;width:300px;top:60px;font-size:16px;transform:scaleX(1.03)">YY, V15*V17=EA26*EA21</div><div class="t r" style="right:711px;top:713.0px;font-size:12.5px">0</div><div class="t r" style="right:711px;top:579.7px;font-size:12.5px">5</div><div class="t r" style="right:711px;top:446.3px;font-size:12.5px">10</div><div class="t r" style="right:711px;top:313.0px;font-size:12.5px">15</div><div class="t r" style="right:711px;top:179.7px;font-size:12.5px">20</div><div class="t c" style="left:324.0px;width:40px;top:726px;font-size:12.5px;transform:scaleX(1.08)">320</div><div class="t c" style="left:365.2px;width:40px;top:726px;font-size:12.5px;transform:scaleX(1.08)">335</div><div class="t c" style="left:406.5px;width:40px;top:726px;font-size:12.5px;transform:scaleX(1.08)">350</div><div class="t c" style="left:447.8px;width:40px;top:726px;font-size:12.5px;transform:scaleX(1.08)">365</div><div class="t c" style="left:489.0px;width:40px;top:726px;font-size:12.5px;transform:scaleX(1.08)">380</div><div class="t c" style="left:494.5px;width:300px;top:60px;font-size:16px;transform:scaleX(1.03)">XY, V15*V17=EA26*EA21</div><div class="t r" style="right:499px;top:713.0px;font-size:12.5px">0</div><div class="t r" style="right:499px;top:579.7px;font-size:12.5px">5</div><div class="t r" style="right:499px;top:446.3px;font-size:12.5px">10</div><div class="t r" style="right:499px;top:313.0px;font-size:12.5px">15</div><div class="t r" style="right:499px;top:179.7px;font-size:12.5px">20</div><div class="t c" style="left:536.0px;width:40px;top:726px;font-size:12.5px;transform:scaleX(1.08)">320</div><div class="t c" style="left:577.5px;width:40px;top:726px;font-size:12.5px;transform:scaleX(1.08)">335</div><div class="t c" style="left:619.0px;width:40px;top:726px;font-size:12.5px;transform:scaleX(1.08)">350</div><div class="t c" style="left:660.5px;width:40px;top:726px;font-size:12.5px;transform:scaleX(1.08)">365</div><div class="t c" style="left:701.9px;width:40px;top:726px;font-size:12.5px;transform:scaleX(1.08)">380</div><div class="t c" style="left:706.5px;width:300px;top:60px;font-size:16px;transform:scaleX(1.03)">YX, V15*V17=EA26*EA21</div><div class="t r" style="right:287px;top:713.0px;font-size:12.5px">0</div><div class="t r" style="right:287px;top:579.7px;font-size:12.5px">5</div><div class="t r" style="right:287px;top:446.3px;font-size:12.5px">10</div><div class="t r" style="right:287px;top:313.0px;font-size:12.5px">15</div><div class="t r" style="right:287px;top:179.7px;font-size:12.5px">20</div><div class="t c" style="left:748.0px;width:40px;top:726px;font-size:12.5px;transform:scaleX(1.08)">320</div><div class="t c" style="left:789.5px;width:40px;top:726px;font-size:12.5px;transform:scaleX(1.08)">335</div><div class="t c" style="left:831.0px;width:40px;top:726px;font-size:12.5px;transform:scaleX(1.08)">350</div><div class="t c" style="left:872.5px;width:40px;top:726px;font-size:12.5px;transform:scaleX(1.08)">365</div><div class="t c" style="left:913.9px;width:40px;top:726px;font-size:12.5px;transform:scaleX(1.08)">380</div><div class="t" style="left:432px;top:744.5px;font-size:12.5px;transform:scaleX(1.11);transform-origin:0 0">frequency (MHz)</div><div class="t" style="left:95.5px;top:400px;font-size:12.5px;transform:translate(-50%,-50%) rotate(-90deg) scaleX(1.11)">UT (hours)</div><div class="t" style="left:981px;top:400px;font-size:12.5px;transform:translate(-50%,-50%) rotate(-90deg) scaleX(1.14)">log<sub style="font-size:8px">10</sub> amplitude</div><div class="t r" style="right:37px;top:153.5px;font-size:10.8px">1</div><div class="t r" style="right:37px;top:249.5px;font-size:10.8px">0</div><div class="t r" style="right:37px;top:345.5px;font-size:10.8px"><span style="display:inline-block;transform:scaleX(1.25);transform-origin:100% 50%;margin-right:1px">−</span>1</div><div class="t r" style="right:37px;top:441.5px;font-size:10.8px"><span style="display:inline-block;transform:scaleX(1.25);transform-origin:100% 50%;margin-right:1px">−</span>2</div><div class="t r" style="right:37px;top:537.5px;font-size:10.8px"><span style="display:inline-block;transform:scaleX(1.25);transform-origin:100% 50%;margin-right:1px">−</span>3</div><div class="t r" style="right:37px;top:633.5px;font-size:10.8px"><span style="display:inline-block;transform:scaleX(1.25);transform-origin:100% 50%;margin-right:1px">−</span>4</div>
</body></html>
